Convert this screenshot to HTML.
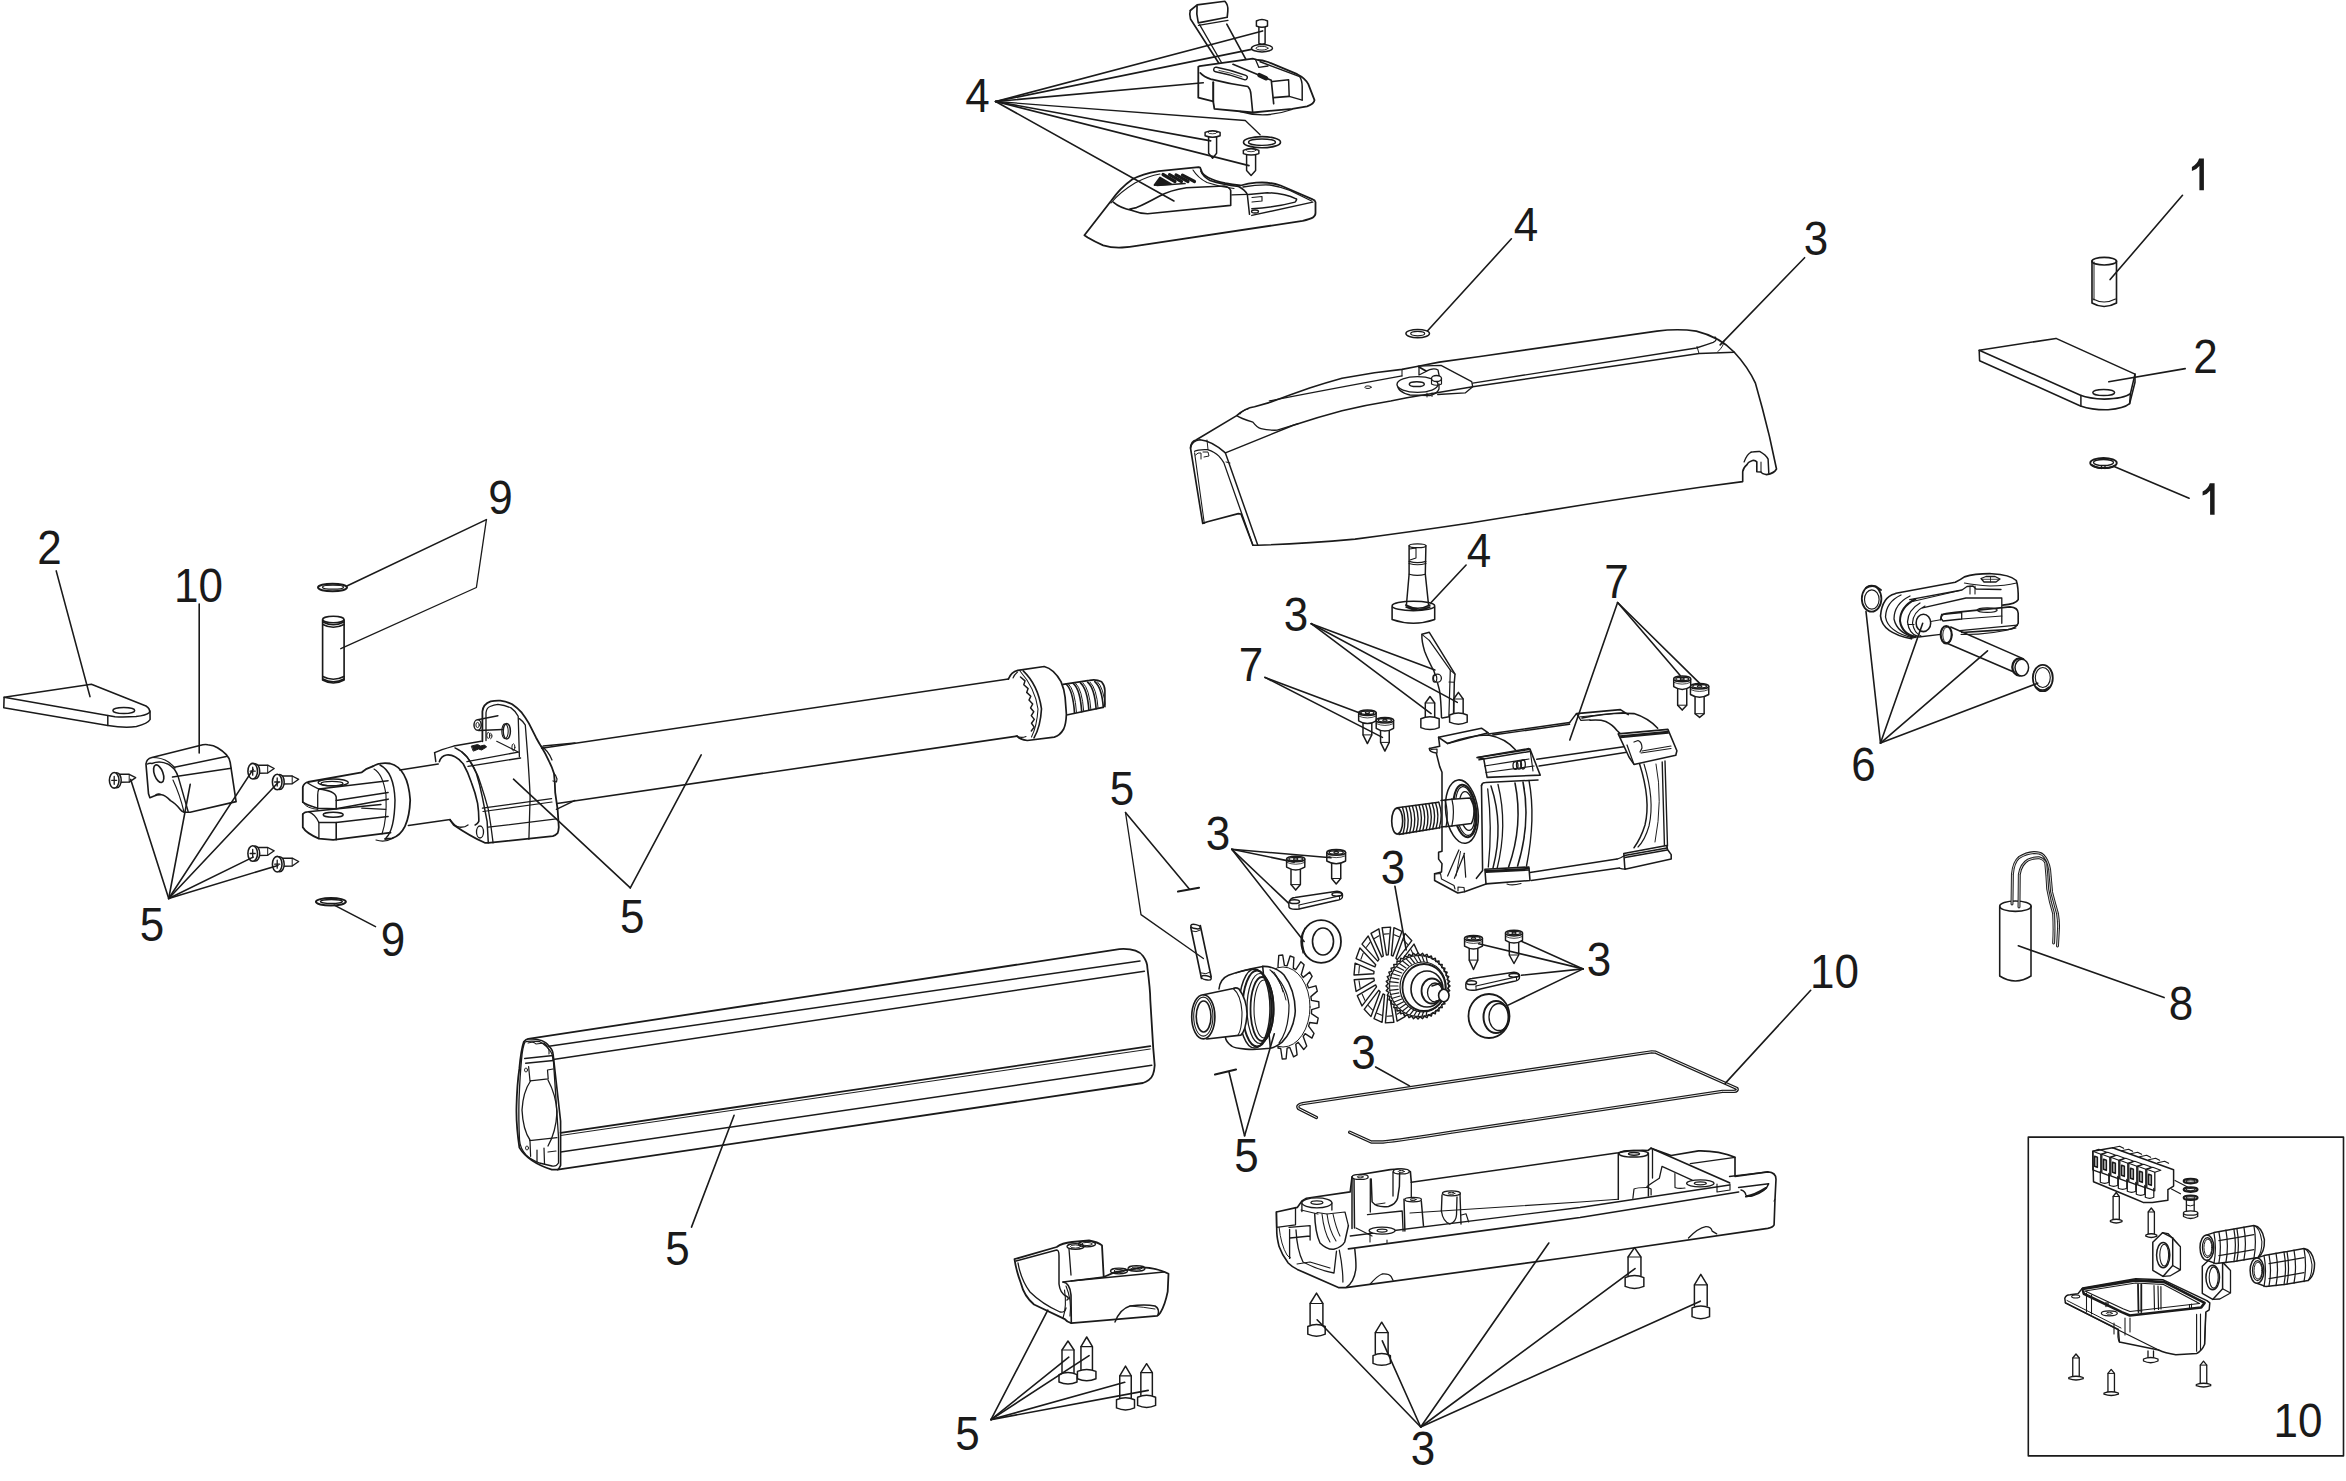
<!DOCTYPE html>
<html><head><meta charset="utf-8"><style>
html,body{margin:0;padding:0;background:#fff;}
body{width:2346px;height:1481px;overflow:hidden;}
svg{display:block;}
text{font-family:"Liberation Sans",sans-serif;}
</style></head><body>
<svg width="2346" height="1481" viewBox="0 0 2346 1481" xmlns="http://www.w3.org/2000/svg" stroke="#1a1a1a" stroke-linejoin="round" stroke-linecap="round" fill="none">
<path d="M1190.3,10.5 Q1189,14 1190.5,19 L1218.7,63" stroke-width="1.64" fill="none"/>
<path d="M1199.6,24.7 L1221.5,62.5" stroke-width="1.31" fill="none"/>
<path d="M1226.8,24.1 L1245.9,59.3" stroke-width="1.64" fill="none"/>
<path d="M1190.3,10.5 L1197.1,4.9 L1224.9,1.2 Q1228.5,5 1227.8,11.1 L1227.2,17.3 L1198.3,22.9 Q1196,14 1197.1,4.9" stroke-width="1.64" fill="none"/>
<path d="M1198.5,25.3 L1228,20.3" stroke-width="1.31" fill="none"/>
<path d="M1258.9,26.6 L1258.9,43.3 Q1262,45 1265.1,43.3 L1265.1,26.6" stroke-width="1.48" fill="none"/>
<path d="M1256.4,21 L1256.4,26 Q1262,28.5 1267.5,26 L1267.5,21 Q1262,18 1256.4,21 Z" stroke-width="1.48" fill="white"/>
<ellipse cx="1262" cy="48.2" rx="10.5" ry="3.7" stroke-width="1.48" fill="none"/>
<ellipse cx="1262" cy="48.2" rx="6" ry="1.9" stroke-width="0.98" fill="none"/>
<path d="M1199.6,66.1 L1252.7,58.7 L1257.7,60 Q1262,60 1268,62 L1297.2,74.2 Q1305,78 1308.3,84.1 L1314.5,100.1 Q1314,104 1307.1,106.3 L1292.3,108.8 L1252.7,112.5 L1214.4,108.8 L1213.2,101.4 L1198.3,97.7 L1198.3,66.7 Z" stroke-width="1.8" fill="none"/>
<path d="M1240,111.5 Q1265,119 1292,109.5" stroke-width="1.31" fill="none"/>
<path d="M1200.2,72.9 Q1204,77 1210.7,79.1 Q1230,84 1247.8,86.5 Q1250.5,89 1250.9,94 L1252.7,112.5" stroke-width="1.64" fill="none"/>
<line x1="1213.2" y1="82.2" x2="1213.2" y2="101.4" stroke-width="2"/>
<path d="M1233,64.3 L1271.3,80.3 L1273.7,103.8" stroke-width="1.64" fill="none"/>
<path d="M1272.5,81.6 L1288.6,79.7 L1289.2,96.4 L1302.2,100.1" stroke-width="1.48" fill="none"/>
<line x1="1273.7" y1="97.7" x2="1289.2" y2="96.4" stroke-width="1.8"/>
<path d="M1260.1,61.8 L1299.7,76.6 Q1302,80 1302.2,86.5 L1302.2,100.1" stroke-width="1.48" fill="none"/>
<path d="M1216,69.5 Q1230,72 1245,77.5" stroke-width="6" stroke-linecap="round" fill="none"/>
<path d="M1216,69.5 Q1230,72 1245,77.5" stroke-width="3.2" stroke="#fff" stroke-linecap="round" fill="none"/>
<path d="M1219,70.5 Q1230,72.5 1242,76.8" stroke-width="0.82" fill="none"/>
<path d="M1259.5,75.2 L1266,78.2" stroke-width="4.5" stroke-linecap="round" fill="none"/>
<path d="M1255.5,59.5 L1258.9,67.4 L1268,66" stroke-width="1.31" fill="none"/>
<path d="M1208.6,137.2 L1208.6,153.3 L1212.6,158.2 L1216.6,153.3 L1216.6,137.2" stroke-width="1.48" fill="none"/>
<path d="M1205.1,132.4 L1205.1,135.7 Q1212.6,138.7 1220.1,135.7 L1220.1,132.4 Q1212.6,128.9 1205.1,132.4 Z" stroke-width="1.48" fill="white"/>
<ellipse cx="1212.6" cy="132.4" rx="4.5" ry="1.4" stroke-width="0.82" fill="none"/>
<path d="M1246.6,155.1 L1246.6,170.6 L1251.1,175.5 L1255.6,170.6 L1255.6,155.1" stroke-width="1.48" fill="none"/>
<path d="M1243.35,150.3 L1243.35,153.6 Q1251.1,156.6 1258.85,153.6 L1258.85,150.3 Q1251.1,146.8 1243.35,150.3 Z" stroke-width="1.48" fill="white"/>
<ellipse cx="1251.1" cy="150.3" rx="4.6499999999999995" ry="1.4" stroke-width="0.82" fill="none"/>
<ellipse cx="1262" cy="142.2" rx="18.5" ry="5.6" stroke-width="1.64" fill="none"/>
<ellipse cx="1262" cy="142.2" rx="13.5" ry="3.2" stroke-width="1.31" fill="none"/>
<path d="M1084.4,235.3 L1087.7,237.6 Q1095,242 1103.2,245.3 Q1112,248 1122.1,247.5 Q1130,247 1136.5,245.9 L1302.7,220.9 Q1310,219 1312.7,217.6 Q1315.5,216 1315.5,213 L1315.5,202.1 Q1315,200 1312.7,199.3 L1280.6,185.5 Q1272,182.5 1262,182.5 L1256.2,182.7 Q1248,183.5 1240.7,185.5 Q1232,184.5 1225.2,183.2 Q1215,181 1208.5,177.7 Q1203,175 1201.9,172.2 L1200.2,167.7 L1198.6,167.2 L1158.7,171.1 Q1142,174 1132.1,179.4 Q1120,188 1111,201 Z" stroke-width="1.8" fill="none"/>
<path d="M1113.2,202.1 Q1120,208 1132.1,210.4 Q1140,213.5 1147.6,213.7 L1230.7,205.4 L1230.7,190.5 Q1229.5,187 1224.1,186 L1186.4,187.7 Q1170,190 1158.7,196.5 Q1145,204 1136.5,207.6 L1130,209" stroke-width="1.64" fill="none"/>
<path d="M1111,203 Q1120,192 1135,183 Q1148,176 1160,174" stroke-width="1.15" fill="none"/>
<path d="M1200.8,171.1 Q1203,177 1210,180.5 Q1222,184.5 1238.5,186.5 Q1245,190 1247.3,194.3 L1249.5,214.3" stroke-width="1.48" fill="none"/>
<path d="M1193,170 Q1198,178 1207,182.5 Q1220,187 1234,188.5" stroke-width="1.15" fill="none"/>
<path d="M1231.8,194.9 L1247.3,194.3" stroke-width="1.31" fill="none"/>
<path d="M1251.8,208.7 Q1275,207.5 1295,202.1 Q1297.5,199 1296.1,198.8 Q1285,193.5 1267.3,192.7 L1248.5,194.5" stroke-width="1.48" fill="none"/>
<path d="M1252,197.5 L1262,196.5 L1262,201 L1252,202" stroke-width="1.15" fill="none"/>
<path d="M1251.8,215.4 L1312.7,202.1" stroke-width="1.48" fill="none"/>
<path d="M1242.9,187 Q1258,184.5 1270,185 Q1280,186.5 1290,190.5 L1311.6,201" stroke-width="1.31" fill="none"/>
<ellipse cx="1255" cy="211.5" rx="3.5" ry="1.5" stroke-width="1.31" fill="none"/>
<path d="M1154.5,185 L1160,177.5 L1171,184 Z" stroke-width="1.8" fill="#1a1a1a"/>
<line x1="1163.0" y1="174.5" x2="1175.0" y2="181.5" stroke-width="3.2"/>
<line x1="1169.5" y1="174.7" x2="1181.5" y2="181.5" stroke-width="3.2"/>
<line x1="1176.0" y1="174.9" x2="1188.0" y2="181.5" stroke-width="3.2"/>
<line x1="1182.5" y1="175.1" x2="1194.5" y2="181.5" stroke-width="3.2"/>
<path d="M1157,185.5 L1185,183.5" stroke-width="1.64" fill="none"/>
<path d="M1202.7,523.4 L1190.5,448 Q1191,441 1196,440 L1236.7,415.6 Q1245,408 1254.5,406.7 L1269.1,402.6 Q1290,395 1309.6,388.1 Q1325,383 1342,378.3 L1374.5,372.7 L1402,369.4 L1418.2,366.2 L1439.3,362.1 L1480,356.5 L1656.9,331.1 Q1678,328.5 1696.3,331.1 Q1720,337 1734.3,352.2 Q1748,367 1755.4,383.1 L1762.4,408.5 L1769.5,436.6 L1776.5,469 Q1774,473.5 1766.6,474.6 Q1762,474 1761,472 L1756.8,471.8 L1756.8,461.9 Q1755,460 1752.6,460.5 Q1748,462 1747,464.7 Q1743,468 1742.7,471.8 L1742.7,481.6 L1700.4,487.3 Q1640,496 1585.3,504.5 Q1520,515 1470.2,523 Q1410,532 1355.1,539.1 Q1300,544 1257.8,545.2 L1252.9,545.2 L1241,514 L1238.3,513.6 L1207.5,521.8 Z" stroke-width="1.64" fill="none"/>
<path d="M1190.5,448 Q1192,440.5 1200,439.8 Q1212,441 1225.4,452.9 L1257.8,545.2" stroke-width="1.48" fill="none"/>
<path d="M1194.6,451.3 Q1198,449.2 1207.5,449.6 Q1215,452 1218.9,456.1 Q1221.5,459 1223.8,462.6 L1252.9,545.2" stroke-width="1.31" fill="none"/>
<path d="M1194.6,452.9 L1204.3,523.4" stroke-width="1.07" fill="none"/>
<path d="M1207,440 L1208,449.5 M1226,462 L1230,463" stroke-width="0.98" fill="none"/>
<path d="M1195.5,455 Q1198,452 1201,453 L1201,459 M1203,452 L1208,452 L1209,456 L1204,457" stroke-width="0.98" fill="none"/>
<path d="M1225.4,452.9 L1293.4,425.3 Q1318,417 1342,410.7 Q1366,405 1390.7,401 L1406.9,397.8 L1472.7,386.7 L1699.1,353.6 L1734.3,352.2" stroke-width="1.48" fill="none"/>
<path d="M1472.7,383.1 L1696.3,348 Q1706,345 1713.2,342.4 Q1718,340 1715,337" stroke-width="1.31" fill="none"/>
<path d="M1699,353.5 L1697,346.5 M1718,351.5 Q1724,346 1724,341" stroke-width="0.98" fill="none"/>
<path d="M1269.1,401 Q1320,391 1402,375.9" stroke-width="1.15" fill="none"/>
<path d="M1236.7,415.6 Q1240,418 1252.9,422.1 Q1257,427.5 1261,428.6 Q1268,430.5 1277.2,430.2 L1298.3,423.7" stroke-width="1.31" fill="none"/>
<path d="M1240,414 Q1243,410 1248,409" stroke-width="1.07" fill="none"/>
<path d="M1402,369.4 L1402,375.9" stroke-width="1.07" fill="none"/>
<path d="M1418.2,366.2 L1441,365.4 L1471.7,381.6 L1472.7,386.7 L1465.2,392.9 L1437.7,394.5" stroke-width="1.31" fill="none"/>
<path d="M1419,366.5 L1419,375 L1425,372 Q1433,367 1438,370 L1440,380" stroke-width="1.31" fill="none"/>
<path d="M1419,367 L1426,371" stroke-width="1.8" fill="none"/>
<path d="M1397.5,384 Q1397,392 1410,395 L1430,395.5 Q1437,394 1439,389 L1439,384" stroke-width="1.31" fill="none"/>
<ellipse cx="1417.5" cy="384.5" rx="20.5" ry="7.8" stroke-width="1.31" fill="white"/>
<ellipse cx="1416.8" cy="384.2" rx="7.5" ry="2.4" stroke-width="1.48" fill="none"/>
<ellipse cx="1436.5" cy="378.5" rx="5" ry="3" stroke-width="1.31" fill="white"/>
<path d="M1431.5,378.5 L1431.5,384 Q1436.5,386.5 1441.5,384 L1441.5,378.5" stroke-width="1.15" fill="none"/>
<path d="M1427,393 L1427,397 M1432,393 L1432,396.5" stroke-width="0.98" fill="none"/>
<ellipse cx="1368" cy="387.2" rx="3.2" ry="1.3" stroke-width="0.98" fill="none"/>
<path d="M1751.2,452.1 Q1755,451.3 1759.6,451.4 Q1766,455 1768.1,459.1 L1768.8,473.2" stroke-width="1.48" fill="none"/>
<path d="M1744.1,461.9 Q1747,454 1751.2,452.1" stroke-width="1.31" fill="none"/>
<path d="M1761,462 L1761,472" stroke-width="1.07" fill="none"/>
<ellipse cx="1417.7" cy="333.6" rx="11.8" ry="4.2" stroke-width="1.48" fill="none"/>
<ellipse cx="1417.7" cy="333.6" rx="7" ry="2.2" stroke-width="1.15" fill="none"/>
<path d="M2092,261 L2092,303 Q2104,310 2116.5,303 L2116.5,261" stroke-width="1.64" fill="none"/>
<ellipse cx="2104.2" cy="261.2" rx="12.3" ry="3.8" stroke-width="1.64" fill="none"/>
<path d="M2093,299 Q2104,305 2115.5,299" stroke-width="1.15" fill="none"/>
<path d="M2094,262 L2094,300" stroke-width="0.98" fill="none"/>
<path d="M1979.2,350.3 L2056,338.4 L2135,374.1 L2130.4,393.7 Q2124,398.8 2104.3,399.1 Q2089,398.5 2080.5,395.2 Z" stroke-width="1.56" fill="none"/>
<path d="M1979.2,350.3 L1979.6,360.7 L2080.5,406 Q2093,410.2 2108.1,409.8 Q2124,408.5 2129.6,403.7 L2135,382.2 L2135,374.1" stroke-width="1.56" fill="none"/>
<line x1="2080.9" y1="395.2" x2="2080.9" y2="406" stroke-width="1.5"/>
<line x1="2130.4" y1="393.7" x2="2129.6" y2="403.7" stroke-width="1.5"/>
<ellipse cx="2103.7" cy="392.5" rx="10.9" ry="3.1" stroke-width="1.48" fill="none"/>
<ellipse cx="2103.5" cy="463" rx="13.3" ry="5" stroke-width="1.8" fill="none"/>
<ellipse cx="2103.5" cy="462.5" rx="10" ry="3" stroke-width="1.31" fill="none"/>
<path d="M2101.5,466 L2101.5,468.5 M2105,466 L2105,468.5" stroke-width="1.31" fill="none"/>
<path d="M2092,465 Q2097,468.5 2101,468 M2106,468 Q2111,468.5 2115,465.5" stroke-width="1.8" fill="none"/>
<path d="M4.1,697.2 L91.4,684.2 L146,706 Q150.5,709 149.5,712.5 Q146,715.5 136,716.5 Q125,717.3 115,716.8 L107.8,715.6 Z" stroke-width="1.56" fill="none"/>
<path d="M4.1,697.2 L3.8,707.7 L107.8,725.5 Q125,728.3 136.4,726.5 Q148,723.5 150.1,719.5 L150,711" stroke-width="1.56" fill="none"/>
<line x1="107.8" y1="715.6" x2="107.8" y2="725.5" stroke-width="1.5"/>
<ellipse cx="123.8" cy="710.5" rx="10.9" ry="3" stroke-width="1.48" fill="none"/>
<path d="M146,764.4 Q146,759 151.9,757.5 L202.8,744.8 Q206,744.3 207.7,744.8 Q214,745.5 217.5,747.7 Q223,751 226.3,754.6 Q229.5,758 230.2,762.4 L236.1,801.6 L190.1,812.3 L184.2,812.3 Q181.5,811 180.3,809.4 Q175,803 170.5,800.6 Q165,795 161.7,794.7 Q157,794.5 154.8,795.7 L149.9,797.7 L148.5,793.7 Z" stroke-width="1.64" fill="none"/>
<path d="M147.5,764 Q149,763 152,763.5 Q160,760 168.5,764.4 Q172.5,767 174.4,769.3 Q177,773 178.3,777.1 L188.1,811.4" stroke-width="1.48" fill="none"/>
<path d="M151.9,757.5 Q162,757.5 168.5,762 Q173,765.5 175,768" stroke-width="1.23" fill="none"/>
<path d="M174.4,767.3 L226.3,756.5" stroke-width="1.48" fill="none"/>
<path d="M172.5,777.1 L231.2,768.3" stroke-width="1.48" fill="none"/>
<path d="M173,780 Q180,795 184,812" stroke-width="1.15" fill="none"/>
<ellipse cx="158.7" cy="773.7" rx="4.3" ry="9.2" stroke-width="1.64" fill="none" transform="rotate(-20 158.7 773.7)"/>
<path d="M155,795.5 Q157,793 160,794" stroke-width="1.15" fill="none"/>
<path d="M118.7,774.3 L129.2,774.3 L135.7,777.5999999999999 L129.2,782.0999999999999 L118.7,782.3" stroke-width="1.39" fill="none"/>
<line x1="129.2" y1="774.3" x2="129.2" y2="782.0999999999999" stroke-width="1.0"/>
<ellipse cx="116.7" cy="780.3" rx="4.5" ry="7.5" stroke-width="1.48" fill="white"/>
<ellipse cx="114.2" cy="780.3" rx="4.8" ry="7.8" stroke-width="1.56" fill="white"/>
<path d="M111.7,780.3 L116.7,780.3 M114.2,776.3 L114.2,784.3" stroke-width="1.31" fill="none"/>
<path d="M257.2,765.2 L267.7,765.2 L274.2,768.5 L267.7,773.0 L257.2,773.2" stroke-width="1.39" fill="none"/>
<line x1="267.7" y1="765.2" x2="267.7" y2="773.0" stroke-width="1.0"/>
<ellipse cx="255.2" cy="771.2" rx="4.5" ry="7.5" stroke-width="1.48" fill="white"/>
<ellipse cx="252.7" cy="771.2" rx="4.8" ry="7.8" stroke-width="1.56" fill="white"/>
<path d="M250.2,771.2 L255.2,771.2 M252.7,767.2 L252.7,775.2" stroke-width="1.31" fill="none"/>
<path d="M281.7,776 L292.2,776 L298.7,779.3 L292.2,783.8 L281.7,784" stroke-width="1.39" fill="none"/>
<line x1="292.2" y1="776" x2="292.2" y2="783.8" stroke-width="1.0"/>
<ellipse cx="279.7" cy="782" rx="4.5" ry="7.5" stroke-width="1.48" fill="white"/>
<ellipse cx="277.2" cy="782" rx="4.8" ry="7.8" stroke-width="1.56" fill="white"/>
<path d="M274.7,782 L279.7,782 M277.2,778 L277.2,786" stroke-width="1.31" fill="none"/>
<path d="M257.2,847.5 L267.7,847.5 L274.2,850.8 L267.7,855.3 L257.2,855.5" stroke-width="1.39" fill="none"/>
<line x1="267.7" y1="847.5" x2="267.7" y2="855.3" stroke-width="1.0"/>
<ellipse cx="255.2" cy="853.5" rx="4.5" ry="7.5" stroke-width="1.48" fill="white"/>
<ellipse cx="252.7" cy="853.5" rx="4.8" ry="7.8" stroke-width="1.56" fill="white"/>
<path d="M250.2,853.5 L255.2,853.5 M252.7,849.5 L252.7,857.5" stroke-width="1.31" fill="none"/>
<path d="M281.7,858.2 L292.2,858.2 L298.7,861.5 L292.2,866.0 L281.7,866.2" stroke-width="1.39" fill="none"/>
<line x1="292.2" y1="858.2" x2="292.2" y2="866.0" stroke-width="1.0"/>
<ellipse cx="279.7" cy="864.2" rx="4.5" ry="7.5" stroke-width="1.48" fill="white"/>
<ellipse cx="277.2" cy="864.2" rx="4.8" ry="7.8" stroke-width="1.56" fill="white"/>
<path d="M274.7,864.2 L279.7,864.2 M277.2,860.2 L277.2,868.2" stroke-width="1.31" fill="none"/>
<ellipse cx="332.5" cy="587.5" rx="14.5" ry="3.8" stroke-width="1.97" fill="none"/>
<ellipse cx="333" cy="587.2" rx="10.5" ry="2" stroke-width="1.31" fill="none"/>
<ellipse cx="330.9" cy="901.8" rx="15" ry="3.8" stroke-width="1.97" fill="none"/>
<ellipse cx="331.4" cy="901.5" rx="11" ry="2" stroke-width="1.31" fill="none"/>
<path d="M322.6,620 L322.6,680 Q333.3,686 344.1,680 L344.1,620" stroke-width="1.64" fill="none"/>
<ellipse cx="333.3" cy="619.5" rx="10.7" ry="3.2" stroke-width="1.64" fill="none"/>
<path d="M322.8,676.5 Q333.3,682 344,676.5 M322.8,679 Q333.3,684.5 344,679" stroke-width="1.56" fill="none"/>
<path d="M322.8,622 Q333.3,627.5 344,622 M322.8,624.5 Q333.3,630 344,624.5" stroke-width="1.56" fill="none"/>
<path d="M541.7,748.2 L1008.4,679" stroke-width="1.64" fill="none"/>
<path d="M557,803.5 L1017.1,736.1" stroke-width="1.64" fill="none"/>
<path d="M1008.4,679 Q1011,672 1017.8,670.3 L1044.2,666.5 Q1054,669 1061,681.7 Q1064.5,690 1065.1,697.3 L1066.4,714.2 Q1066,724 1063.7,729 Q1060,735.5 1054.3,737.1 L1027.3,740.5 Q1020,739.5 1017.1,736.1" stroke-width="1.72" fill="none"/>
<path d="M1023.2,670.9 Q1038,685 1041.5,708.8 Q1040.5,727 1034,737.8" stroke-width="1.64" fill="none"/>
<path d="M1020,671 Q1035,688 1038,709 Q1037,726 1031.5,737" stroke-width="1.07" fill="none"/>
<path d="M1017.5,672 Q1014,675 1013,678 M1016,736 Q1021,738.5 1026,736.5" stroke-width="1.07" fill="none"/>
<path d="M1020.5,677 L1025.0,680.9 L1023.8,684.7 L1028.1,688.6 L1026.7,692.4 L1030.8,696.3 L1029.0,700.1 L1032.7,704.0 L1030.6,707.9 L1033.8,711.7 L1031.3,715.6 L1034.3,719.4 L1031.5,723.3 L1034.2,727.1 L1031.3,731.0" stroke-width="1.48" fill="none"/>
<path d="M1063.1,684.4 L1089.4,680.4 Q1096,679 1101.6,681.7 Q1105,686 1104.9,690.5 L1104.9,704 Q1104.5,706.5 1102.9,707.4 L1067.8,714.8" stroke-width="1.64" fill="none"/>
<path d="M1066.0,684.0 Q1073.0,690.0 1074.5,713.0" stroke-width="1.64" fill="none"/>
<path d="M1068.5,684.0 Q1075.0,690.0 1076.5,712.5" stroke-width="0.98" fill="none"/>
<path d="M1073.2,683.4 Q1080.2,689.4 1081.7,711.6" stroke-width="1.64" fill="none"/>
<path d="M1075.7,683.4 Q1082.2,689.4 1083.7,711.1" stroke-width="0.98" fill="none"/>
<path d="M1080.4,682.8 Q1087.4,688.8 1088.9,710.2" stroke-width="1.64" fill="none"/>
<path d="M1082.9,682.8 Q1089.4,688.8 1090.9,709.7" stroke-width="0.98" fill="none"/>
<path d="M1087.6,682.2 Q1094.6,688.2 1096.1,708.8" stroke-width="1.64" fill="none"/>
<path d="M1090.1,682.2 Q1096.6,688.2 1098.1,708.3" stroke-width="0.98" fill="none"/>
<path d="M1094.8,681.6 Q1101.8,687.6 1103.3,707.4" stroke-width="1.64" fill="none"/>
<path d="M1097.3,681.6 Q1103.8,687.6 1105.3,706.9" stroke-width="0.98" fill="none"/>
<path d="M302.8,802.2 L302.8,787 Q304,783 308,782 L361.8,772.3 L366.6,768.8 L372.6,766.4" stroke-width="1.8" fill="none"/>
<path d="M302.8,802.2 Q306,805 317.7,808.2 L336.2,808.7 L388.1,799.2" stroke-width="1.64" fill="none"/>
<path d="M306.9,782.5 Q312,786 318.9,789.1 L388.1,780.7" stroke-width="1.48" fill="none"/>
<path d="M318.9,789.1 Q317.7,791 317.7,795 L317.7,808.2" stroke-width="1.31" fill="none"/>
<path d="M318.9,789.1 Q335,791 336.2,797 L336.2,808.7" stroke-width="1.48" fill="none"/>
<path d="M336.2,800.4 L388.1,792.6" stroke-width="1.48" fill="none"/>
<ellipse cx="333.2" cy="782.5" rx="15" ry="3.5" stroke-width="1.48" fill="none"/>
<ellipse cx="332" cy="783.5" rx="11" ry="2.2" stroke-width="1.31" fill="none"/>
<path d="M302.8,814.1 L302.8,827.2 Q306,833 318.9,838.6 L333.2,839.8 L390.5,832.6" stroke-width="1.8" fill="none"/>
<path d="M302.8,814.1 Q304,812 308.1,811.7 L380.9,804.6" stroke-width="1.48" fill="none"/>
<path d="M308.1,811.7 Q315,814 318.9,822.5 L318.9,838.6" stroke-width="1.31" fill="none"/>
<path d="M318.9,822.5 L336.2,822.5 L388.1,816.5" stroke-width="1.48" fill="none"/>
<line x1="336.2" y1="822.5" x2="336.2" y2="839.8" stroke-width="1.6"/>
<ellipse cx="333.2" cy="814.7" rx="10" ry="2.5" stroke-width="1.48" fill="none"/>
<path d="M361.8,808.2 L385.7,809.3" stroke-width="1.31" fill="none"/>
<path d="M304,803.5 Q306,808 318,809.5" stroke-width="0.98" fill="none"/>
<path d="M372.6,766.4 Q380,762 390,763.5 Q408,768 410.2,800 Q409,833 392,838.3 L385,839" stroke-width="1.8" fill="none"/>
<path d="M380,765 Q394,772 395,800 Q394.5,830 386,838" stroke-width="1.48" fill="none"/>
<path d="M374,769 Q383,774 386,795 Q387,820 382,834" stroke-width="1.15" fill="none"/>
<path d="M376,840 Q385,843 393,838" stroke-width="1.15" fill="none"/>
<path d="M400,770 L438.2,764" stroke-width="1.64" fill="none"/>
<path d="M408.4,825.5 L450.2,819.5" stroke-width="1.64" fill="none"/>
<path d="M434.6,752.7 L435.8,761.6" stroke-width="1.48" fill="none"/>
<path d="M434.6,752.7 Q440,750 453.7,746.1 L481.2,741.3" stroke-width="1.48" fill="none"/>
<path d="M482.4,741.3 L482.4,711.5 Q483,704 490.7,701.3 Q495,700.5 500.3,700.7 Q507,701.5 512.2,704.3 Q517,707.5 521.8,712.7 Q525.5,717.5 528.9,723.4 L536.1,737.7 Q538.5,742 540.9,746.1 Q545.5,753.5 549.2,761.6 Q552,767 554,773.5 Q555,783 555.2,792.6 L557.6,809.3 L558.8,827.2 Q558.5,831 557.6,833.2 Q555.5,835.5 552.8,836.2 L488.3,842.8 L484.8,842.8 Q470,836 453.7,824.9 L450.2,820.1" stroke-width="1.8" fill="none"/>
<path d="M486,740.5 L486,712.7 Q486.5,708 490,706.5 Q494,704.5 497.9,704.3 Q505,705 511,707.9 Q515.5,711 518.2,716.3 L519.4,756.8" stroke-width="1.31" fill="none"/>
<path d="M519.4,718.6 Q524,722 525.3,725 L528,760 Q530,790 530.1,797.4 L528.9,839.2" stroke-width="1.31" fill="none"/>
<path d="M439.4,761.6 Q441,756 446.6,755 Q451,754.5 455,756.8 Q460,759.5 463.3,764 Q468,772 471.6,783.1 Q475.5,793 477.6,803.4 Q479,813 478.8,821.3 Q477.5,824 475.2,824.9" stroke-width="1.64" fill="none"/>
<path d="M455,747.9 Q462,751 466.9,756.8 Q472,764 476.4,773.5 Q480,785 482.4,797.4 L487.1,821.3 L488.3,842.8" stroke-width="1.48" fill="none"/>
<path d="M462.1,752 Q469,758 474,767.6 Q478.5,776 481.2,785.5 Q485,797 488.3,809.3 Q491,825 493.1,842.8" stroke-width="1.31" fill="none"/>
<path d="M450.2,820.1 Q455,826.5 459.7,827.2 Q465,827.5 468,824.9" stroke-width="1.31" fill="none"/>
<ellipse cx="480" cy="832" rx="3.5" ry="6" stroke-width="1.31" fill="none"/>
<path d="M468,766.4 L520.6,758 M466.9,761.6 L518.2,752.1" stroke-width="1.31" fill="none"/>
<path d="M496.7,741.3 L518.2,752.1" stroke-width="1.15" fill="none"/>
<path d="M471.6,746 l6,-1.5 l3,1.5 l4,-1 l2,2 l-5,3 l-3,-1 l-5,2 Z" stroke-width="0.98" fill="#1a1a1a"/>
<path d="M482.4,808.2 L551.6,798.6 M483,811.5 L552,802" stroke-width="1.23" fill="none"/>
<path d="M488.3,827.2 L556.4,818.9" stroke-width="1.31" fill="none"/>
<path d="M477.6,719.8 L497.9,715.7 M478.8,730.6 L502.7,729.4" stroke-width="1.48" fill="none"/>
<ellipse cx="477.6" cy="725" rx="3.6" ry="5.2" stroke-width="1.48" fill="white"/>
<ellipse cx="477.6" cy="725" rx="1.7" ry="2.6" stroke-width="0.98" fill="none"/>
<ellipse cx="506.8" cy="731.2" rx="3.6" ry="7.8" stroke-width="1.48" fill="white"/>
<ellipse cx="505" cy="731.2" rx="3.2" ry="7.4" stroke-width="1.07" fill="none"/>
<ellipse cx="488.3" cy="735.4" rx="1.5" ry="3" stroke-width="0.98" fill="none"/>
<ellipse cx="490.7" cy="736" rx="1.2" ry="2.8" stroke-width="0.82" fill="none"/>
<ellipse cx="513.4" cy="747.3" rx="1.5" ry="3.5" stroke-width="0.98" fill="none"/>
<path d="M543.2,746.1 L575,743.1 M556.4,809.3 L575,800.4" stroke-width="1.48" fill="none"/>
<path d="M540.9,746.1 Q548,750 552,760 M554,773.5 Q556,775 557,779 L556.5,782 L553,781" stroke-width="1.23" fill="none"/>
<path d="M1392.1,607 L1392.1,619.5 Q1413.4,627 1434.7,619.5 L1434.7,607" stroke-width="1.56" fill="none"/>
<ellipse cx="1413.4" cy="605.9" rx="21.3" ry="4.7" stroke-width="1.56" fill="white"/>
<path d="M1406.4,605.3 L1409.1,574.2 L1409.1,545.8 M1428.6,605.3 L1425.3,574.2 L1425.9,545.8" stroke-width="1.48" fill="none"/>
<ellipse cx="1417.5" cy="545.8" rx="8.4" ry="1.9" stroke-width="1.31" fill="white"/>
<path d="M1409.1,561.4 Q1417.5,564 1425.9,561.4 M1409.1,563.5 Q1417.5,566 1425.9,563.5" stroke-width="1.23" fill="none"/>
<path d="M1409.1,574.2 Q1417.5,576.5 1425.3,574.2" stroke-width="1.15" fill="none"/>
<path d="M1409.5,549 L1416,548 L1416,558 L1410,560" stroke-width="1.07" fill="none"/>
<path d="M1405.7,605 Q1418,611.5 1430,605 M1406,607 Q1418,613 1430,607" stroke-width="1.56" fill="none"/>
<path d="M1421.9,634.3 L1429.3,632.3 L1455,674.2 L1454.3,682.3 L1453.6,714.7 L1448.9,716.8 L1442.2,718.1 L1441.5,717.4 Q1441,700 1439.5,690.4 Q1437,680 1434.1,671.5 Q1428,660 1424.6,651.2 Q1421.5,641 1421.9,634.3 Z" stroke-width="1.48" fill="white"/>
<path d="M1429.3,640.4 L1450.3,670.1 L1448.9,716.1" stroke-width="1.23" fill="none"/>
<path d="M1421.9,634.3 L1429.3,640.4 M1450.3,670.1 L1455,674.2 M1449,682 L1454.3,682.3" stroke-width="1.07" fill="none"/>
<ellipse cx="1437.4" cy="678.2" rx="4" ry="4" stroke-width="1.31" fill="white"/>
<ellipse cx="1434.8" cy="678.5" rx="2" ry="3.6" stroke-width="1.15" fill="none"/>
<path d="M1425.3,716.8 L1425.3,703 L1430,696.5 L1434.7,703 L1434.7,716.8" stroke-width="1.48" fill="none"/>
<line x1="1425.3" y1="703" x2="1434.7" y2="703" stroke-width="1.2"/>
<path d="M1420.85,718.8 L1420.85,727.6 Q1430,731.6 1439.15,727.6 L1439.15,718.8 Q1430,714.8 1420.85,718.8 Z" stroke-width="1.48" fill="white"/>
<path d="M1453.65,713 L1453.65,699 L1458.4,692.4 L1463.15,699 L1463.15,713" stroke-width="1.48" fill="none"/>
<line x1="1453.65" y1="699" x2="1463.15" y2="699" stroke-width="1.2"/>
<path d="M1449.6000000000001,715 L1449.6000000000001,722.2 Q1458.4,726.2 1467.2,722.2 L1467.2,715 Q1458.4,711 1449.6000000000001,715 Z" stroke-width="1.48" fill="white"/>
<path d="M1363.0,723.6 L1363.0,734.9 L1367.4,743.6 L1371.8000000000002,734.9 L1371.8000000000002,723.6" stroke-width="1.48" fill="none"/>
<line x1="1363.0" y1="734.9" x2="1371.8000000000002" y2="734.9" stroke-width="1.0"/>
<path d="M1358.65,712.6999999999999 L1358.65,720.8000000000001 Q1367.4,726.4 1376.15,720.8000000000001 L1376.15,712.6999999999999" stroke-width="1.48" fill="white"/>
<ellipse cx="1367.4" cy="712.6999999999999" rx="8.75" ry="2.8" stroke-width="1.48" fill="white"/>
<ellipse cx="1367.4" cy="712.6999999999999" rx="6.5625" ry="1.68" stroke-width="1.31" fill="none"/>
<ellipse cx="1367.4" cy="712.6999999999999" rx="2.1875" ry="0.9799999999999999" stroke-width="1.15" fill="none"/>
<path d="M1358.65,716.06 Q1367.4,719.98 1376.15,716.06" stroke-width="0.82" fill="none"/>
<path d="M1380.5500000000002,731.1 L1380.5500000000002,742.4 L1384.9,751.1 L1389.25,742.4 L1389.25,731.1" stroke-width="1.48" fill="none"/>
<line x1="1380.5500000000002" y1="742.4" x2="1389.25" y2="742.4" stroke-width="1.0"/>
<path d="M1376.2,720.1999999999999 L1376.2,728.3000000000001 Q1384.9,733.9 1393.6000000000001,728.3000000000001 L1393.6000000000001,720.1999999999999" stroke-width="1.48" fill="white"/>
<ellipse cx="1384.9" cy="720.1999999999999" rx="8.7" ry="2.8" stroke-width="1.48" fill="white"/>
<ellipse cx="1384.9" cy="720.1999999999999" rx="6.5249999999999995" ry="1.68" stroke-width="1.31" fill="none"/>
<ellipse cx="1384.9" cy="720.1999999999999" rx="2.175" ry="0.9799999999999999" stroke-width="1.15" fill="none"/>
<path d="M1376.2,723.56 Q1384.9,727.48 1393.6000000000001,723.56" stroke-width="0.82" fill="none"/>
<path d="M1677.65,689.4 L1677.65,705.2 L1682.2,710.1 L1686.75,705.2 L1686.75,689.4" stroke-width="1.48" fill="none"/>
<line x1="1677.65" y1="705.2" x2="1686.75" y2="705.2" stroke-width="1.0"/>
<path d="M1673.7,678.9 L1673.7,686.6 Q1682.2,692.1999999999999 1690.7,686.6 L1690.7,678.9" stroke-width="1.48" fill="white"/>
<ellipse cx="1682.2" cy="678.9" rx="8.5" ry="2.8" stroke-width="1.48" fill="white"/>
<ellipse cx="1682.2" cy="678.9" rx="6.375" ry="1.68" stroke-width="1.31" fill="none"/>
<ellipse cx="1682.2" cy="678.9" rx="2.125" ry="0.9799999999999999" stroke-width="1.15" fill="none"/>
<path d="M1673.7,682.26 Q1682.2,686.1800000000001 1690.7,682.26" stroke-width="0.82" fill="none"/>
<path d="M1695.05,697.3 L1695.05,713.7 L1699.6,717.4 L1704.1499999999999,713.7 L1704.1499999999999,697.3" stroke-width="1.48" fill="none"/>
<line x1="1695.05" y1="713.7" x2="1704.1499999999999" y2="713.7" stroke-width="1.0"/>
<path d="M1690.4499999999998,686.1999999999999 L1690.4499999999998,694.5 Q1699.6,700.0999999999999 1708.75,694.5 L1708.75,686.1999999999999" stroke-width="1.48" fill="white"/>
<ellipse cx="1699.6" cy="686.1999999999999" rx="9.15" ry="2.8" stroke-width="1.48" fill="white"/>
<ellipse cx="1699.6" cy="686.1999999999999" rx="6.862500000000001" ry="1.68" stroke-width="1.31" fill="none"/>
<ellipse cx="1699.6" cy="686.1999999999999" rx="2.2875" ry="0.9799999999999999" stroke-width="1.15" fill="none"/>
<path d="M1690.4499999999998,689.56 Q1699.6,693.48 1708.75,689.56" stroke-width="0.82" fill="none"/>
<path d="M1429.5,748.6 L1439.7,746.3 L1438.6,737.3" stroke-width="1.56" fill="none"/>
<path d="M1429.5,748.6 Q1429,752 1436.3,753.1 L1439.7,766.6 L1442,772.3 L1442,851.2 L1438.6,852.3 L1438.6,859.1 L1442,863.6 L1441.5,872 L1434.6,873.8" stroke-width="1.56" fill="none"/>
<path d="M1431,749.5 L1437,749 L1437,753" stroke-width="1.23" fill="none"/>
<ellipse cx="1461.9" cy="811.6" rx="16.1" ry="31.9" stroke-width="1.56" fill="none" transform="rotate(-7 1461.9 811.6)"/>
<ellipse cx="1465" cy="811" rx="11.2" ry="26.4" stroke-width="2.13" fill="none" transform="rotate(-7 1465 811)"/>
<ellipse cx="1465.5" cy="811" rx="9.6" ry="24.5" stroke-width="1.15" fill="none" transform="rotate(-7 1465.5 811)"/>
<ellipse cx="1467" cy="811" rx="7.5" ry="19.5" stroke-width="1.31" fill="none" transform="rotate(-7 1467 811)"/>
<path d="M1451.9,799.2 L1470.1,798 Q1474,804 1474,811 Q1474,819 1471.3,823.5 L1451.9,825.9" stroke-width="1.56" fill="white"/>
<path d="M1441,800.4 L1451.9,799.2 M1441,827.1 L1451.9,825.9" stroke-width="1.48" fill="none"/>
<path d="M1445,800 Q1449,813 1446,827 M1451.9,799.2 Q1455,812 1451.9,825.9" stroke-width="1.23" fill="none"/>
<path d="M1397.2,807.7 L1438.5,802.2 M1399,834.4 L1439.7,827.8" stroke-width="1.64" fill="none"/>
<ellipse cx="1397.2" cy="821.1" rx="5.5" ry="13" stroke-width="1.64" fill="none"/>
<path d="M1402.5,807.3 Q1407.0,820.5 1403.0,834.0" stroke-width="1.39" fill="none"/>
<path d="M1405.8,806.8499999999999 Q1410.3,820.0 1406.3,833.45" stroke-width="1.39" fill="none"/>
<path d="M1409.1,806.4 Q1413.6,819.5 1409.6,832.9" stroke-width="1.39" fill="none"/>
<path d="M1412.4,805.9499999999999 Q1416.9,819.0 1412.9,832.35" stroke-width="1.39" fill="none"/>
<path d="M1415.7,805.5 Q1420.2,818.5 1416.2,831.8" stroke-width="1.39" fill="none"/>
<path d="M1419.0,805.05 Q1423.5,818.0 1419.5,831.25" stroke-width="1.39" fill="none"/>
<path d="M1422.3,804.5999999999999 Q1426.8,817.5 1422.8,830.7" stroke-width="1.39" fill="none"/>
<path d="M1425.6,804.15 Q1430.1,817.0 1426.1,830.15" stroke-width="1.39" fill="none"/>
<path d="M1428.9,803.6999999999999 Q1433.4,816.5 1429.4,829.6" stroke-width="1.39" fill="none"/>
<path d="M1432.2,803.25 Q1436.7,816.0 1432.7,829.05" stroke-width="1.39" fill="none"/>
<path d="M1435.5,802.8 Q1440.0,815.5 1436.0,828.5" stroke-width="1.39" fill="none"/>
<path d="M1438.8,802.3499999999999 Q1443.3,815.0 1439.3,827.95" stroke-width="1.39" fill="none"/>
<path d="M1438.6,737.3 L1481.5,728.2 L1488.3,732.8 L1447.6,743.5 Z" stroke-width="1.56" fill="none"/>
<path d="M1447.6,743.5 Q1470,735 1488.3,735 Q1505,738 1515.4,749.7" stroke-width="1.56" fill="none"/>
<path d="M1488.3,733.9 L1569.6,722.6 M1492.8,735 L1569.6,724.3" stroke-width="1.48" fill="none"/>
<path d="M1569.6,722.6 L1576.4,713.6 L1620.4,709.6 L1628.3,714.7" stroke-width="1.56" fill="none"/>
<path d="M1578.6,717 L1624,712.5 M1576.4,713.6 L1580.9,720.3 L1590,719.8" stroke-width="1.23" fill="none"/>
<path d="M1590,720.3 Q1600,719.5 1605.7,721.5 Q1613,725 1617,730.5 L1620.4,733.9" stroke-width="1.56" fill="none"/>
<path d="M1582,718 Q1610,712 1634,713.6 Q1648,718 1657.7,728.2" stroke-width="1.56" fill="none"/>
<path d="M1477,757.6 L1528.9,748.6 L1530,749.1 L1540.2,775.1 L1487.1,777.4 L1483.7,758.7 Z" stroke-width="1.56" fill="white"/>
<path d="M1478,757.5 L1529,749.5 M1479,759.8 L1529.5,751.5" stroke-width="1.48" fill="none"/>
<path d="M1484.5,766 L1529,759 M1486,772.5 L1534,766" stroke-width="1.23" fill="none"/>
<path d="M1530,749.1 L1533,771" stroke-width="1.15" fill="none"/>
<ellipse cx="1515.5" cy="765.5" rx="2.5" ry="3.8" stroke-width="1.31" fill="none"/>
<ellipse cx="1519" cy="765" rx="2.5" ry="4.2" stroke-width="1.31" fill="none"/>
<ellipse cx="1523" cy="764.5" rx="2.3" ry="4.5" stroke-width="1.31" fill="none"/>
<path d="M1536.8,759.3 L1627.2,746.3 M1539.1,766.1 L1628.3,752" stroke-width="1.48" fill="none"/>
<path d="M1618.2,733.9 L1667.9,729.4 L1676.9,750.8 L1675.8,755.3 L1634,764.4 L1629,757 Z" stroke-width="1.56" fill="white"/>
<path d="M1620,736 L1668,731.5 M1620.5,737.5 L1668.3,733" stroke-width="1.48" fill="none"/>
<path d="M1627,745 L1634,764.4 M1634,742 L1638,740.5 Q1642,742 1642,748 L1640,752" stroke-width="1.23" fill="none"/>
<path d="M1641,753 L1671,748.5 M1642,751 L1671,746" stroke-width="1.15" fill="none"/>
<path d="M1639.6,764 Q1651,800 1645,825 Q1641,838 1634,847.8" stroke-width="1.48" fill="none"/>
<path d="M1644,764 Q1655,800 1649,826 Q1645,840 1638,847" stroke-width="1.15" fill="none"/>
<path d="M1662.2,762 L1664.5,847.8 M1665,761 L1667.5,846" stroke-width="1.39" fill="none"/>
<path d="M1656,764 Q1663,800 1655,842" stroke-width="0.98" fill="none"/>
<path d="M1623.8,853.4 L1666.7,845.5 L1667.5,849.5 L1671.2,854.6 L1671.2,859.1 L1624.9,869.2 Z" stroke-width="1.56" fill="white"/>
<path d="M1624.5,855.5 L1667,848 M1625,857.5 L1667.2,850" stroke-width="1.39" fill="none"/>
<path d="M1617,859.1 Q1621,858 1623.8,856 M1619.3,868.1 Q1622,869 1624.9,869.2" stroke-width="1.23" fill="none"/>
<path d="M1530,872.6 L1617,859.1 M1531.2,880.5 L1619.3,868.1" stroke-width="1.48" fill="none"/>
<path d="M1481.5,785.6 Q1482,782.5 1485.5,782.5 L1538,780" stroke-width="1.56" fill="none"/>
<path d="M1481.5,785.6 L1482.6,870.4 L1476.4,878.3" stroke-width="1.56" fill="none"/>
<path d="M1487.7,789 Q1492.5,827 1488.3,867" stroke-width="1.31" fill="none"/>
<path d="M1491,786 Q1504,825 1493,868" stroke-width="1.48" fill="none"/>
<path d="M1498,784.5 Q1508,825 1497,869" stroke-width="1.31" fill="none"/>
<path d="M1515,783 Q1523.5,825 1508.6,867" stroke-width="1.56" fill="none"/>
<path d="M1523,782 Q1531,822 1517.6,866" stroke-width="1.56" fill="none"/>
<path d="M1529,780.5 Q1536,818 1526.5,866" stroke-width="1.39" fill="none"/>
<path d="M1484.9,869.2 L1528.9,867 L1530,880.5 L1486,883.9 Z" stroke-width="1.56" fill="white"/>
<path d="M1485.5,870.8 L1528.8,868.5 M1485.8,872.3 L1528.8,870" stroke-width="1.48" fill="none"/>
<path d="M1507,884 Q1512,886 1521,883.5" stroke-width="1.15" fill="none"/>
<path d="M1434.6,873.8 L1434.6,880.5 L1457.8,893 L1464.5,891.8 L1486,883.9" stroke-width="1.56" fill="none"/>
<path d="M1436,874 L1440.5,873.5 L1441.5,879 L1454,885.5 L1455,889 M1458,891 L1458,887 L1464,887.5 L1464.5,891.8" stroke-width="1.15" fill="none"/>
<path d="M1447.6,876 L1458.9,850 M1454.4,878.3 L1464.5,853.4 M1464,853.4 L1465.7,877.1" stroke-width="1.23" fill="none"/>
<path d="M1460.5,851.5 L1456,876" stroke-width="0.98" fill="none"/>
<path d="M1178,891.5 L1199,887.8" stroke-width="2.13" fill="none"/>
<path d="M1215,1074.5 L1236,1069.5" stroke-width="2.13" fill="none"/>
<path d="M1190.8,927.5 L1201.5,978.5 M1200.3,925.5 L1211.2,977" stroke-width="1.64" fill="none"/>
<ellipse cx="1195.5" cy="926.6" rx="4.8" ry="2" stroke-width="1.48" fill="none" transform="rotate(12 1195.5 926.6)"/>
<ellipse cx="1206.3" cy="977.8" rx="5" ry="2" stroke-width="1.48" fill="none" transform="rotate(12 1206.3 977.8)"/>
<path d="M1201,973 Q1206,975 1210.5,972 M1191.5,931 Q1196,933 1200.5,930" stroke-width="0.98" fill="none"/>
<path d="M1291.0,869.9 L1291.0,884.6 L1295.7,890.1 L1300.4,884.6 L1300.4,869.9" stroke-width="1.48" fill="none"/>
<line x1="1291.0" y1="884.6" x2="1300.4" y2="884.6" stroke-width="1.0"/>
<path d="M1286.6000000000001,859.0 L1286.6000000000001,867.1 Q1295.7,872.6999999999999 1304.8,867.1 L1304.8,859.0" stroke-width="1.48" fill="white"/>
<ellipse cx="1295.7" cy="859.0" rx="9.1" ry="2.8" stroke-width="1.48" fill="white"/>
<ellipse cx="1295.7" cy="859.0" rx="6.824999999999999" ry="1.68" stroke-width="1.31" fill="none"/>
<ellipse cx="1295.7" cy="859.0" rx="2.275" ry="0.9799999999999999" stroke-width="1.15" fill="none"/>
<path d="M1286.6000000000001,862.36 Q1295.7,866.2800000000001 1304.8,862.36" stroke-width="0.82" fill="none"/>
<path d="M1331.65,863.8 L1331.65,878.5 L1336.2,884 L1340.75,878.5 L1340.75,863.8" stroke-width="1.48" fill="none"/>
<line x1="1331.65" y1="878.5" x2="1340.75" y2="878.5" stroke-width="1.0"/>
<path d="M1326.8,852.4 L1326.8,861.0 Q1336.2,866.5999999999999 1345.6000000000001,861.0 L1345.6000000000001,852.4" stroke-width="1.48" fill="white"/>
<ellipse cx="1336.2" cy="852.4" rx="9.4" ry="2.8" stroke-width="1.48" fill="white"/>
<ellipse cx="1336.2" cy="852.4" rx="7.050000000000001" ry="1.68" stroke-width="1.31" fill="none"/>
<ellipse cx="1336.2" cy="852.4" rx="2.35" ry="0.9799999999999999" stroke-width="1.15" fill="none"/>
<path d="M1326.8,855.76 Q1336.2,859.6800000000001 1345.6000000000001,855.76" stroke-width="0.82" fill="none"/>
<path d="M1295,897.5 L1337,891.3 Q1343,892.0 1342.5,895.0 L1342.3,897.5 Q1341,900.0 1336,900.5 L1299,909.0 Q1290,910.0 1289,907.0 L1288.8,903.5 Q1289.5,898.0 1295,897.5 Z" stroke-width="1.48" fill="white"/>
<path d="M1299,905.0 L1341.5,895.3" stroke-width="1.23" fill="none"/>
<ellipse cx="1294.5" cy="901.7" rx="5" ry="1.9" stroke-width="1.48" fill="none"/>
<ellipse cx="1337" cy="894.3" rx="5" ry="1.9" stroke-width="1.48" fill="none"/>
<path d="M1299,905.0 L1299,909.0 M1339.5,895.5 L1339.5,899.5" stroke-width="0.98" fill="none"/>
<path d="M1472,978.5 L1514,972.3 Q1520,973.0 1519.5,976.0 L1519.3,978.5 Q1518,981.0 1513,981.5 L1476,990.0 Q1467,991.0 1466,988.0 L1465.8,984.5 Q1466.5,979.0 1472,978.5 Z" stroke-width="1.48" fill="white"/>
<path d="M1476,986.0 L1518.5,976.3" stroke-width="1.23" fill="none"/>
<ellipse cx="1471.5" cy="982.7" rx="5" ry="1.9" stroke-width="1.48" fill="none"/>
<ellipse cx="1514" cy="975.3" rx="5" ry="1.9" stroke-width="1.48" fill="none"/>
<path d="M1476,986.0 L1476,990.0 M1516.5,976.5 L1516.5,980.5" stroke-width="0.98" fill="none"/>
<ellipse cx="1321.1" cy="941.5" rx="19.9" ry="21.3" stroke-width="1.8" fill="none"/>
<ellipse cx="1323" cy="941.5" rx="10.5" ry="13.5" stroke-width="1.64" fill="none"/>
<path d="M1303,933 Q1301,946 1306,956 M1305,928 Q1300,941 1303,953" stroke-width="1.15" fill="none"/>
<ellipse cx="1489" cy="1016" rx="20.5" ry="22" stroke-width="1.8" fill="none"/>
<ellipse cx="1496" cy="1017" rx="12.5" ry="16" stroke-width="1.97" fill="none"/>
<ellipse cx="1499" cy="1017" rx="10" ry="13.5" stroke-width="1.31" fill="none"/>
<path d="M1469.2,949 L1469.2,960.1 L1473.5,969.5 L1477.8,960.1 L1477.8,949" stroke-width="1.48" fill="none"/>
<line x1="1469.2" y1="960.1" x2="1477.8" y2="960.1" stroke-width="1.0"/>
<path d="M1464.55,938.1999999999999 L1464.55,946.2 Q1473.5,951.8 1482.45,946.2 L1482.45,938.1999999999999" stroke-width="1.48" fill="white"/>
<ellipse cx="1473.5" cy="938.1999999999999" rx="8.95" ry="2.8" stroke-width="1.48" fill="white"/>
<ellipse cx="1473.5" cy="938.1999999999999" rx="6.7124999999999995" ry="1.68" stroke-width="1.31" fill="none"/>
<ellipse cx="1473.5" cy="938.1999999999999" rx="2.2375" ry="0.9799999999999999" stroke-width="1.15" fill="none"/>
<path d="M1464.55,941.56 Q1473.5,945.48 1482.45,941.56" stroke-width="0.82" fill="none"/>
<path d="M1509.3,943.1 L1509.3,955 L1514,963.5 L1518.7,955 L1518.7,943.1" stroke-width="1.48" fill="none"/>
<line x1="1509.3" y1="955" x2="1518.7" y2="955" stroke-width="1.0"/>
<path d="M1505.5,933.0999999999999 L1505.5,940.3000000000001 Q1514,945.9 1522.5,940.3000000000001 L1522.5,933.0999999999999" stroke-width="1.48" fill="white"/>
<ellipse cx="1514" cy="933.0999999999999" rx="8.5" ry="2.8" stroke-width="1.48" fill="white"/>
<ellipse cx="1514" cy="933.0999999999999" rx="6.375" ry="1.68" stroke-width="1.31" fill="none"/>
<ellipse cx="1514" cy="933.0999999999999" rx="2.125" ry="0.9799999999999999" stroke-width="1.15" fill="none"/>
<path d="M1505.5,936.4599999999999 Q1514,940.38 1522.5,936.4599999999999" stroke-width="0.82" fill="none"/>
<path d="M1278.0,966.0 L1278.8,955.4 L1282.7,955.0 L1284.4,965.4 L1287.1,965.8 L1290.1,956.0 L1293.9,957.4 L1293.3,968.1 L1295.8,969.7 L1300.8,961.8 L1304.1,964.8 L1301.2,974.7 L1303.2,977.4 L1309.7,972.1 L1312.1,976.4 L1307.2,984.5 L1308.6,987.9 L1315.9,985.8 L1317.3,991.1 L1310.9,996.6 L1311.4,1000.4 L1318.8,1001.7 L1319.0,1007.3 L1311.7,1009.6 L1311.4,1013.6 L1318.2,1018.1 L1317.1,1023.5 L1309.7,1022.5 L1308.6,1026.1 L1314.0,1033.4 L1311.9,1038.1 L1305.1,1033.7 L1303.2,1036.6 L1306.7,1046.1 L1303.7,1049.5 L1298.2,1042.3 L1295.8,1044.3 L1297.1,1054.8 L1293.5,1056.8 L1289.8,1047.4 L1287.1,1048.2 L1286.1,1058.8 L1282.2,1059.0 L1280.7,1048.5 L1278.0,1048.0 L1283,1007 Z" stroke-width="1.39" fill="white"/>
<ellipse cx="1283" cy="1007" rx="27" ry="40" stroke-width="0.98" fill="white"/>
<path d="M1262.7,966.4 Q1275,966 1284,975 Q1295,990 1295.3,1011 Q1294,1030 1282.1,1042.1 Q1276,1047 1270.4,1048.3" stroke-width="1.56" fill="white"/>
<path d="M1270,969.9 Q1287,985 1289,1005 Q1289,1030 1279,1043" stroke-width="1.23" fill="none"/>
<path d="M1272,971 Q1283,985 1286,1000 M1274,972 Q1280,980 1283,992" stroke-width="0.98" fill="none"/>
<path d="M1219,989 Q1220,979 1228.5,975.3 Q1240,970.5 1262.7,966.4 L1270.4,1048.3 Q1255,1050 1245.6,1049.1 Q1234,1048 1231.6,1046 Q1226,1042 1225.4,1037.4" stroke-width="1.56" fill="white"/>
<ellipse cx="1254.5" cy="1008.5" rx="15.5" ry="39.5" stroke-width="1.56" fill="white"/>
<ellipse cx="1257" cy="1008.5" rx="14.5" ry="38" stroke-width="1.97" fill="none"/>
<ellipse cx="1260" cy="1008.5" rx="13" ry="35" stroke-width="1.23" fill="none"/>
<ellipse cx="1262" cy="1009" rx="11.5" ry="32" stroke-width="1.8" fill="none"/>
<ellipse cx="1264" cy="1009" rx="10" ry="29" stroke-width="1.07" fill="none"/>
<path d="M1236,973 Q1248,969 1255,969" stroke-width="1.31" fill="none"/>
<path d="M1203.3,994.7 L1233.2,988.5 Q1236,987 1239,989 Q1247,1000 1247,1014 Q1246,1030 1240.9,1035.1 L1206.7,1039" stroke-width="1.56" fill="white"/>
<ellipse cx="1203.3" cy="1016.8" rx="11.6" ry="22.1" stroke-width="1.64" fill="none"/>
<ellipse cx="1203.3" cy="1016.6" rx="9.6" ry="19.5" stroke-width="1.07" fill="none"/>
<ellipse cx="1203.6" cy="1016.5" rx="7.4" ry="15.5" stroke-width="1.64" fill="none"/>
<path d="M1233.2,988.5 Q1241,995 1242,1012 Q1242,1030 1238,1035" stroke-width="1.07" fill="none"/>
<path d="M1422.0,975.0 L1420.9,986.9 L1402.0,978.7 L1402.2,976.3 Z" stroke-width="1.39" fill="white"/>
<path d="M1417.2,976.7 L1416.6,983.7" stroke-width="1.07" fill="none"/>
<path d="M1419.9,991.4 L1416.1,1002.1 L1400.3,985.3 L1401.1,983.1 Z" stroke-width="1.39" fill="white"/>
<path d="M1415.1,990.7 L1412.8,996.9" stroke-width="1.07" fill="none"/>
<path d="M1414.0,1005.9 L1407.8,1014.0 L1397.1,990.6 L1398.3,988.9 Z" stroke-width="1.39" fill="white"/>
<path d="M1409.6,1002.8 L1406.0,1007.6" stroke-width="1.07" fill="none"/>
<path d="M1405.0,1016.6 L1397.1,1021.2 L1392.7,994.0 L1394.3,993.1 Z" stroke-width="1.39" fill="white"/>
<path d="M1401.6,1011.5 L1397.0,1014.3" stroke-width="1.07" fill="none"/>
<path d="M1393.9,1022.3 L1385.4,1022.9 L1387.8,995.2 L1389.6,995.0 Z" stroke-width="1.39" fill="white"/>
<path d="M1391.9,1015.9 L1386.9,1016.3" stroke-width="1.07" fill="none"/>
<path d="M1382.1,1022.3 L1374.0,1018.7 L1383.0,993.9 L1384.6,994.6 Z" stroke-width="1.39" fill="white"/>
<path d="M1381.8,1015.3 L1377.0,1013.2" stroke-width="1.07" fill="none"/>
<path d="M1371.0,1016.6 L1364.2,1009.3 L1378.7,990.3 L1380.1,991.8 Z" stroke-width="1.39" fill="white"/>
<path d="M1372.4,1009.9 L1368.4,1005.6" stroke-width="1.07" fill="none"/>
<path d="M1362.0,1005.9 L1357.3,995.7 L1375.6,984.9 L1376.5,986.9 Z" stroke-width="1.39" fill="white"/>
<path d="M1364.9,1000.2 L1362.2,994.3" stroke-width="1.07" fill="none"/>
<path d="M1356.1,991.4 L1354.2,979.7 L1373.9,978.3 L1374.3,980.6 Z" stroke-width="1.39" fill="white"/>
<path d="M1360.1,987.6 L1359.0,980.7" stroke-width="1.07" fill="none"/>
<path d="M1354.0,975.0 L1355.1,963.1 L1374.0,971.3 L1373.8,973.7 Z" stroke-width="1.39" fill="white"/>
<path d="M1358.8,973.3 L1359.4,966.3" stroke-width="1.07" fill="none"/>
<path d="M1356.1,958.6 L1359.9,947.9 L1375.7,964.7 L1374.9,966.9 Z" stroke-width="1.39" fill="white"/>
<path d="M1360.9,959.3 L1363.2,953.1" stroke-width="1.07" fill="none"/>
<path d="M1362.0,944.1 L1368.2,936.0 L1378.9,959.4 L1377.7,961.1 Z" stroke-width="1.39" fill="white"/>
<path d="M1366.4,947.2 L1370.0,942.4" stroke-width="1.07" fill="none"/>
<path d="M1371.0,933.4 L1378.9,928.8 L1383.3,956.0 L1381.7,956.9 Z" stroke-width="1.39" fill="white"/>
<path d="M1374.4,938.5 L1379.0,935.7" stroke-width="1.07" fill="none"/>
<path d="M1382.1,927.7 L1390.6,927.1 L1388.2,954.8 L1386.4,955.0 Z" stroke-width="1.39" fill="white"/>
<path d="M1384.1,934.1 L1389.1,933.7" stroke-width="1.07" fill="none"/>
<path d="M1393.9,927.7 L1402.0,931.3 L1393.0,956.1 L1391.4,955.4 Z" stroke-width="1.39" fill="white"/>
<path d="M1394.2,934.7 L1399.0,936.8" stroke-width="1.07" fill="none"/>
<path d="M1405.0,933.4 L1411.8,940.7 L1397.3,959.7 L1395.9,958.2 Z" stroke-width="1.39" fill="white"/>
<path d="M1403.6,940.1 L1407.6,944.4" stroke-width="1.07" fill="none"/>
<path d="M1414.0,944.1 L1418.7,954.3 L1400.4,965.1 L1399.5,963.1 Z" stroke-width="1.39" fill="white"/>
<path d="M1411.1,949.8 L1413.8,955.7" stroke-width="1.07" fill="none"/>
<path d="M1419.9,958.6 L1421.8,970.3 L1402.1,971.7 L1401.7,969.4 Z" stroke-width="1.39" fill="white"/>
<path d="M1415.9,962.4 L1417.0,969.3" stroke-width="1.07" fill="none"/>
<path d="M1450.0,986.0 L1447.7,988.2 L1449.7,990.7 L1447.1,992.5 L1448.7,995.3 L1445.9,996.7 L1447.1,999.7 L1444.1,1000.7 L1444.9,1003.8 L1441.8,1004.4 L1442.2,1007.6 L1439.0,1007.7 L1439.0,1010.9 L1435.8,1010.6 L1435.3,1013.8 L1432.3,1012.9 L1431.3,1016.0 L1428.4,1014.8 L1427.0,1017.7 L1424.3,1016.0 L1422.6,1018.7 L1420.1,1016.6 L1418.0,1019.0 L1415.9,1016.6 L1413.4,1018.7 L1411.7,1016.0 L1409.0,1017.7 L1407.6,1014.8 L1404.7,1016.0 L1403.7,1012.9 L1400.7,1013.8 L1400.2,1010.6 L1397.0,1010.9 L1397.0,1007.7 L1393.8,1007.6 L1394.2,1004.4 L1391.1,1003.8 L1391.9,1000.7 L1388.9,999.7 L1390.1,996.7 L1387.3,995.3 L1388.9,992.5 L1386.3,990.7 L1388.3,988.2 L1386.0,986.0 L1388.3,983.8 L1386.3,981.3 L1388.9,979.5 L1387.3,976.7 L1390.1,975.3 L1388.9,972.3 L1391.9,971.3 L1391.1,968.2 L1394.2,967.6 L1393.8,964.4 L1397.0,964.3 L1397.0,961.1 L1400.2,961.4 L1400.7,958.2 L1403.7,959.1 L1404.7,956.0 L1407.6,957.2 L1409.0,954.3 L1411.7,956.0 L1413.4,953.3 L1415.9,955.4 L1418.0,953.0 L1420.1,955.4 L1422.6,953.3 L1424.3,956.0 L1427.0,954.3 L1428.4,957.2 L1431.3,956.0 L1432.3,959.1 L1435.3,958.2 L1435.8,961.4 L1439.0,961.1 L1439.0,964.3 L1442.2,964.4 L1441.8,967.6 L1444.9,968.2 L1444.1,971.3 L1447.1,972.3 L1445.9,975.3 L1448.7,976.7 L1447.1,979.5 L1449.7,981.3 L1447.7,983.8 Z" stroke-width="1.48" fill="white"/>
<ellipse cx="1419" cy="986" rx="29.5" ry="30.5" stroke-width="1.07" fill="none"/>
<line x1="1418.0" y1="1016.0" x2="1421.0" y2="1010.0" stroke-width="1.2"/>
<line x1="1413.9" y1="1015.7" x2="1417.7" y2="1009.8" stroke-width="1.2"/>
<line x1="1409.8" y1="1014.8" x2="1414.5" y2="1009.0" stroke-width="1.2"/>
<line x1="1406.0" y1="1013.3" x2="1411.4" y2="1007.8" stroke-width="1.2"/>
<line x1="1402.3" y1="1011.2" x2="1408.6" y2="1006.2" stroke-width="1.2"/>
<line x1="1399.0" y1="1008.7" x2="1405.9" y2="1004.1" stroke-width="1.2"/>
<line x1="1396.1" y1="1005.6" x2="1403.6" y2="1001.7" stroke-width="1.2"/>
<line x1="1393.6" y1="1002.2" x2="1401.7" y2="999.0" stroke-width="1.2"/>
<line x1="1391.6" y1="998.5" x2="1400.1" y2="996.0" stroke-width="1.2"/>
<line x1="1390.2" y1="994.5" x2="1398.9" y2="992.8" stroke-width="1.2"/>
<line x1="1389.3" y1="990.3" x2="1398.2" y2="989.4" stroke-width="1.2"/>
<line x1="1389.0" y1="986.0" x2="1398.0" y2="986.0" stroke-width="1.2"/>
<line x1="1389.3" y1="981.7" x2="1398.2" y2="982.6" stroke-width="1.2"/>
<line x1="1390.2" y1="977.5" x2="1398.9" y2="979.2" stroke-width="1.2"/>
<line x1="1391.6" y1="973.5" x2="1400.1" y2="976.0" stroke-width="1.2"/>
<line x1="1393.6" y1="969.8" x2="1401.7" y2="973.0" stroke-width="1.2"/>
<line x1="1396.1" y1="966.4" x2="1403.6" y2="970.3" stroke-width="1.2"/>
<line x1="1399.0" y1="963.3" x2="1405.9" y2="967.9" stroke-width="1.2"/>
<line x1="1402.3" y1="960.8" x2="1408.6" y2="965.8" stroke-width="1.2"/>
<line x1="1406.0" y1="958.7" x2="1411.4" y2="964.2" stroke-width="1.2"/>
<line x1="1409.8" y1="957.2" x2="1414.5" y2="963.0" stroke-width="1.2"/>
<line x1="1413.9" y1="956.3" x2="1417.7" y2="962.2" stroke-width="1.2"/>
<line x1="1418.0" y1="956.0" x2="1421.0" y2="962.0" stroke-width="1.2"/>
<line x1="1422.1" y1="956.3" x2="1424.3" y2="962.2" stroke-width="1.2"/>
<line x1="1426.2" y1="957.2" x2="1427.5" y2="963.0" stroke-width="1.2"/>
<line x1="1426.2" y1="1014.8" x2="1427.5" y2="1009.0" stroke-width="1.2"/>
<line x1="1422.1" y1="1015.7" x2="1424.3" y2="1009.8" stroke-width="1.2"/>
<ellipse cx="1423" cy="987" rx="23" ry="25" stroke-width="1.23" fill="white"/>
<ellipse cx="1424" cy="987.5" rx="21.5" ry="23.5" stroke-width="1.8" fill="none"/>
<ellipse cx="1427" cy="989" rx="16" ry="18" stroke-width="1.64" fill="none"/>
<ellipse cx="1432" cy="991" rx="10.5" ry="12.5" stroke-width="1.8" fill="none"/>
<ellipse cx="1435" cy="992.5" rx="7.5" ry="9.5" stroke-width="1.31" fill="none"/>
<path d="M1432,986 L1441,983 M1436,1001 L1444,1000" stroke-width="1.48" fill="none"/>
<ellipse cx="1443.8" cy="995.5" rx="5.2" ry="6.2" stroke-width="1.64" fill="white"/>
<path d="M1316.4,1117.5 L1298.5,1108.5 Q1296,1105 1302.6,1103.7 L1651.7,1051.8 L1655.6,1052.2 L1737,1088.5 Q1738,1091 1734,1091.4 L1722.3,1091.4 L1451.7,1132.2 Q1400,1140.5 1383,1142 L1371.3,1142 L1349.7,1132.2" stroke-width="3.3" fill="none"/>
<path d="M1316.4,1117.5 L1298.5,1108.5 Q1296,1105 1302.6,1103.7 L1651.7,1051.8 L1655.6,1052.2 L1737,1088.5 Q1738,1091 1734,1091.4 L1722.3,1091.4 L1451.7,1132.2 Q1400,1140.5 1383,1142 L1371.3,1142 L1349.7,1132.2" stroke-width="0.9" stroke="#fff" fill="none"/>
<ellipse cx="1871.6" cy="598.7" rx="9.8" ry="13" stroke-width="1.8" fill="none"/>
<ellipse cx="1871.8" cy="599.5" rx="7.3" ry="9.6" stroke-width="1.15" fill="none"/>
<path d="M1866,588 Q1870,585 1876,586.5 L1881,590" stroke-width="1.97" fill="none"/>
<ellipse cx="2042.8" cy="678" rx="10" ry="13.2" stroke-width="1.8" fill="none"/>
<ellipse cx="2042.8" cy="677.5" rx="7.5" ry="10" stroke-width="1.15" fill="none"/>
<path d="M2038,689 L2040,691 M2045,691 L2047,689 M2036,687 Q2042.5,693 2049,687" stroke-width="1.48" fill="none"/>
<path d="M1896,593.3 L1955.3,582.3 Q1960,580 1964.4,576.9 Q1975,573.5 1991.7,573.7 Q2010,574.5 2016.3,580.5 Q2018.5,587 2018.2,599.6 Q2016,604 2002.7,605.1" stroke-width="1.64" fill="none"/>
<path d="M1981,578.5 L1986,576.5 L1995,576.5 L2000,579 L1996,582 L1984,582 Z" stroke-width="1.31" fill="none"/>
<path d="M1990.5,576.5 L1990.5,582 M1982,579.3 L1999,579.3" stroke-width="0.82" fill="none"/>
<path d="M1964.5,583 Q1975,585 1990,586 Q2005,586 2016.5,583" stroke-width="1.23" fill="none"/>
<path d="M1909.7,599.6 L1962,590 L1967,586.5 L1973,586 L1976,589 L2001,589.5" stroke-width="1.31" fill="none"/>
<path d="M1912.4,601.5 L1959.8,590.5" stroke-width="1.15" fill="none"/>
<path d="M1922.5,607.8 L1966,598 L2001.8,597.8 L2001.8,623.3" stroke-width="1.31" fill="none"/>
<path d="M1930.7,621.5 L1942,619.5" stroke-width="1.15" fill="none"/>
<path d="M1970,586 L1970,594 M1975,586 L1975,594" stroke-width="1.07" fill="none"/>
<path d="M1940.7,619.7 Q1941,614 1946,613.5 L1955.3,612.4 L2010,606.9 Q2018,607.5 2018.2,613.3 L2018.2,623.3 Q2016,628.5 2008,629.5 L1990.9,630.6 L1961.7,632.5" stroke-width="1.64" fill="none"/>
<path d="M1941.6,614.5 L1961.7,612.5 L1961.7,619 L1943,621 Q1940,618 1941.6,614.5" stroke-width="1.31" fill="none"/>
<ellipse cx="1987.2" cy="610.1" rx="10" ry="2.3" stroke-width="1.23" fill="none"/>
<path d="M1961.7,619 L2001.8,616" stroke-width="1.23" fill="none"/>
<path d="M1918.8,637 L1940.7,634.3 M1959.8,630.6 L2017.3,625.2" stroke-width="1.31" fill="none"/>
<path d="M1961,634.5 Q1990,635 2016,628" stroke-width="1.07" fill="none"/>
<path d="M1895.1,593.7 Q1882,597 1880.5,616 Q1882,633 1911.5,638.8" stroke-width="1.64" fill="none"/>
<path d="M1901,595 Q1886,602 1885.5,617 Q1888,632 1913,638" stroke-width="1.31" fill="none"/>
<path d="M1910,596 Q1894,604 1894,619 Q1897,633 1915,637.5" stroke-width="1.31" fill="none"/>
<path d="M1915.5,599 Q1900,607 1900,621 Q1902,634 1916,637" stroke-width="1.97" fill="none"/>
<path d="M1920,603 Q1908,610 1907.5,622 Q1909,634 1918,636.5" stroke-width="1.31" fill="none"/>
<path d="M1925,606 Q1913,612 1912.5,623 Q1914,633 1921,636" stroke-width="1.15" fill="none"/>
<line x1="1908" y1="624.5" x2="1914" y2="624.5" stroke-width="1.2"/>
<ellipse cx="1923.4" cy="622.9" rx="7.3" ry="8.7" stroke-width="1.56" fill="white"/>
<path d="M1950.7,627 L2023.6,658.9 M1945.2,642.5 L2017.3,673.5" stroke-width="1.56" fill="none"/>
<ellipse cx="1946.2" cy="634.7" rx="5.5" ry="8.7" stroke-width="2.13" fill="white"/>
<ellipse cx="1947.3" cy="635" rx="4.5" ry="8" stroke-width="0.98" fill="none"/>
<ellipse cx="2019.5" cy="667" rx="7.2" ry="8.6" stroke-width="2.3" fill="white"/>
<ellipse cx="2021.8" cy="667.6" rx="6.8" ry="8.4" stroke-width="1.48" fill="white"/>
<path d="M1999.7,906.2 L1999.7,976 Q2015.4,986 2031,976 L2031,906.2" stroke-width="1.56" fill="none"/>
<ellipse cx="2015.4" cy="906.2" rx="15.7" ry="5.2" stroke-width="1.56" fill="none"/>
<path d="M2012,904 L2012.4,874.4 Q2013.5,862 2019,857.5 Q2026,853 2034,852.5 Q2040,852.5 2043,855 Q2048,860 2049.6,869.5 Q2051,885 2051.6,892 Q2055,905 2057.5,913.6 Q2058.8,922 2058.5,928.3 L2057.5,946" stroke-width="2.9" fill="none"/>
<path d="M2012,904 L2012.4,874.4 Q2013.5,862 2019,857.5 Q2026,853 2034,852.5 Q2040,852.5 2043,855 Q2048,860 2049.6,869.5 Q2051,885 2051.6,892 Q2055,905 2057.5,913.6 Q2058.8,922 2058.5,928.3 L2057.5,946" stroke-width="0.8" stroke="#fff" fill="none"/>
<path d="M2019,907 L2019.3,874.4 Q2021,864 2028,860 Q2034,857.5 2039,857.7 Q2044,859 2045.7,862.6 Q2047,875 2047.7,889.1 Q2050,902 2053.6,913.6 Q2054.5,930 2053.6,943" stroke-width="2.9" fill="none"/>
<path d="M2019,907 L2019.3,874.4 Q2021,864 2028,860 Q2034,857.5 2039,857.7 Q2044,859 2045.7,862.6 Q2047,875 2047.7,889.1 Q2050,902 2053.6,913.6 Q2054.5,930 2053.6,943" stroke-width="0.8" stroke="#fff" fill="none"/>
<path d="M528.2,1038.8 L1119.4,949.1 Q1137,948 1143,956 Q1147.4,962 1147.4,968 Q1150.3,990 1150.3,1000 L1153.2,1047.6 L1154.7,1065.3 Q1154,1077 1148.8,1080 Q1146,1082 1142.9,1083 L557.6,1169.7 L551.8,1169.7 Q528,1162 519.4,1147.6 Q516,1125 516.5,1106.5 Q517,1085 519.4,1068.2 Q521,1050 523.8,1041.8 Q526,1039 528.2,1038.8 Z" stroke-width="1.8" fill="none"/>
<path d="M528.2,1038.8 Q545,1039 548.8,1046.2 Q553,1050 553.2,1055 L560.6,1121.2 L560.6,1165.3 Q559,1169 557.6,1169.7" stroke-width="1.64" fill="none"/>
<path d="M548.8,1046.2 L1140,960.9" stroke-width="1.48" fill="none"/>
<path d="M553.2,1059.4 L1144.4,971.2" stroke-width="1.48" fill="none"/>
<path d="M560.6,1132.9 L1150.3,1046.2" stroke-width="1.8" fill="none"/>
<path d="M560.6,1135.5 L1150.3,1049" stroke-width="0.98" fill="none"/>
<path d="M560.6,1152 L1151.8,1065.3" stroke-width="1.48" fill="none"/>
<path d="M525,1042 Q528,1040.5 539.4,1041.5 Q548,1046 552,1054 L553.5,1062 L558.5,1137 L558.5,1163 Q556,1167 552,1166 L539.4,1163 Q530,1159 526,1155 Q520,1148 519.5,1140 Q518.5,1118 519,1100 Q520,1075 521.5,1060 Q522.5,1047 525,1042 Z" stroke-width="1.31" fill="none"/>
<path d="M524.7,1058.4 L553.1,1055.4 M525.7,1063.3 L553.5,1060.5" stroke-width="1.48" fill="none"/>
<path d="M528.6,1066.5 L530,1080.9 L548.2,1078.9 L547.5,1070 L553,1069" stroke-width="1.23" fill="none"/>
<path d="M530.5,1081 Q523,1092 522,1110 Q523,1130 530,1140" stroke-width="1.31" fill="none"/>
<path d="M548,1080 Q556,1095 557,1112 Q556,1132 548,1146" stroke-width="1.31" fill="none"/>
<path d="M529.6,1140.6 L557,1137.7 M530,1141 L530.6,1156.3 M537,1150 L537,1162 M544,1148 L544.5,1164 M548,1152 L556,1151" stroke-width="1.23" fill="none"/>
<path d="M528,1043 Q534,1041 536,1044 L544,1043 Q550,1048 549,1054" stroke-width="1.07" fill="none"/>
<ellipse cx="526" cy="1070" rx="1.5" ry="2" stroke-width="0.9" fill="none"/>
<ellipse cx="527" cy="1148" rx="1.5" ry="2" stroke-width="0.9" fill="none"/>
<path d="M1014.5,1259.2 L1056.7,1247 Q1062,1243 1072,1242 L1089.1,1240.5 Q1098,1242 1102,1245.4 L1103.7,1277 L1115,1272.1 L1142.6,1267.3 Q1158,1268 1168.5,1273.8 L1167.7,1291.6 Q1165,1305 1160.4,1312.6 Q1159,1315 1157.1,1315.9 L1071.3,1323.2 Q1067,1322 1064.8,1319.1 L1034,1304.5 Q1024,1296 1021,1283.5 Q1016,1270 1014.5,1259.2 Z" stroke-width="1.8" fill="none"/>
<path d="M1016,1261 L1056.7,1250 Q1059,1250 1059,1256 L1059,1284 Q1060,1293 1066,1296 Q1070,1298 1067,1300" stroke-width="1.48" fill="none"/>
<path d="M1018,1263 Q1021,1280 1030,1292 Q1042,1304 1060,1312 Q1065,1313 1066,1308" stroke-width="1.31" fill="none"/>
<path d="M1063,1282 L1103.7,1277" stroke-width="1.31" fill="none"/>
<path d="M1063,1282 Q1070,1283 1071,1295 L1071.3,1323.2" stroke-width="1.64" fill="none"/>
<path d="M1066,1286 Q1072,1300 1070,1316 M1064.5,1290 Q1067,1306 1063,1318" stroke-width="1.15" fill="none"/>
<path d="M1069,1249 L1071,1275" stroke-width="1.31" fill="none"/>
<path d="M1071,1281 L1164,1272" stroke-width="1.31" fill="none"/>
<path d="M1115,1322 Q1120,1309 1130,1306 Q1145,1304 1155,1306 Q1160,1309 1158,1315" stroke-width="1.48" fill="none"/>
<path d="M1130,1306 Q1144,1307 1155,1309" stroke-width="0.98" fill="none"/>
<ellipse cx="1075.5" cy="1246.5" rx="8.5" ry="2.8" stroke-width="1.31" fill="none"/>
<ellipse cx="1075.5" cy="1246.5" rx="5" ry="1.6" stroke-width="0.98" fill="none"/>
<ellipse cx="1087" cy="1244" rx="8.5" ry="2.8" stroke-width="1.31" fill="none"/>
<ellipse cx="1087" cy="1244" rx="5" ry="1.6" stroke-width="0.98" fill="none"/>
<ellipse cx="1119" cy="1271" rx="8.5" ry="2.8" stroke-width="1.31" fill="none"/>
<ellipse cx="1119" cy="1271" rx="5" ry="1.6" stroke-width="0.98" fill="none"/>
<ellipse cx="1136.5" cy="1268.5" rx="8.5" ry="2.8" stroke-width="1.31" fill="none"/>
<ellipse cx="1136.5" cy="1268.5" rx="5" ry="1.6" stroke-width="0.98" fill="none"/>
<path d="M1062.0,1372.6 L1062.0,1350 L1068,1341 L1074.0,1350 L1074.0,1372.6" stroke-width="1.48" fill="none"/>
<line x1="1062.0" y1="1350" x2="1074.0" y2="1350" stroke-width="1.2"/>
<path d="M1059.0,1374.6 L1059.0,1382 Q1068,1386 1077.0,1382 L1077.0,1374.6 Q1068,1370.6 1059.0,1374.6 Z" stroke-width="1.48" fill="white"/>
<path d="M1080.95,1369.4 L1080.95,1346.7 L1086.7,1337 L1092.45,1346.7 L1092.45,1369.4" stroke-width="1.48" fill="none"/>
<line x1="1080.95" y1="1346.7" x2="1092.45" y2="1346.7" stroke-width="1.2"/>
<path d="M1077.45,1371.4 L1077.45,1378.7 Q1086.7,1382.7 1095.95,1378.7 L1095.95,1371.4 Q1086.7,1367.4 1077.45,1371.4 Z" stroke-width="1.48" fill="white"/>
<path d="M1119.75,1397.7 L1119.75,1375.8 L1125.5,1366.1 L1131.25,1375.8 L1131.25,1397.7" stroke-width="1.48" fill="none"/>
<line x1="1119.75" y1="1375.8" x2="1131.25" y2="1375.8" stroke-width="1.2"/>
<path d="M1116.5,1399.7 L1116.5,1407.9 Q1125.5,1411.9 1134.5,1407.9 L1134.5,1399.7 Q1125.5,1395.7 1116.5,1399.7 Z" stroke-width="1.48" fill="white"/>
<path d="M1140.85,1395.3 L1140.85,1372.6 L1146.6,1363.7 L1152.35,1372.6 L1152.35,1395.3" stroke-width="1.48" fill="none"/>
<line x1="1140.85" y1="1372.6" x2="1152.35" y2="1372.6" stroke-width="1.2"/>
<path d="M1137.6,1397.3 L1137.6,1405.4 Q1146.6,1409.4 1155.6,1405.4 L1155.6,1397.3 Q1146.6,1393.3 1137.6,1397.3 Z" stroke-width="1.48" fill="white"/>
<path d="M1276.4,1212 L1297.3,1207.4 L1301.9,1201 L1306.5,1198.3 L1350.2,1191.9 L1352,1177 Q1354,1175.5 1357.5,1175 L1390.3,1169.6 Q1396,1168.8 1401.3,1169.1 Q1407,1169.5 1410.4,1171.8 L1411.3,1182.3 L1618.3,1152.8 Q1630,1150 1648,1150.5 L1651.1,1148.2 L1671.1,1155.5 L1698.5,1150.9 Q1718,1150.5 1735,1157.3 L1735,1176.5 L1767.8,1171.9 Q1776,1172.5 1776,1179.2 L1775,1199.2 L1774.1,1224.8 Q1773,1227.2 1767.8,1228.4 L1580,1255.8 L1480,1269.4 L1345.7,1287.6 L1338.4,1287.6 L1297.3,1269.4 Q1291,1266 1288.2,1263 Q1282,1255 1279.1,1246.6 Q1277,1238 1276.8,1232.9 Z" stroke-width="1.64" fill="none"/>
<path d="M1651.1,1148.2 L1729.5,1182.8" stroke-width="1.8" fill="none"/>
<path d="M1652.5,1150 L1652.5,1178" stroke-width="1.31" fill="none"/>
<path d="M1690.3,1163.7 L1735,1157.3" stroke-width="1.31" fill="none"/>
<path d="M1411.3,1198.3 L1411.3,1182.3" stroke-width="1.31" fill="none"/>
<path d="M1348.4,1248.9 L1580,1217.5 L1738.6,1192" stroke-width="1.64" fill="none"/>
<path d="M1350.2,1236 L1580,1207.5 L1729.5,1185" stroke-width="1.31" fill="none"/>
<path d="M1410,1213 L1580,1202 L1618.3,1199.2" stroke-width="1.15" fill="none"/>
<path d="M1738.6,1187.4 L1768.7,1183.8 Q1766,1192 1752,1196 Q1747,1197 1745.9,1195 Q1745,1191 1741,1190" stroke-width="1.48" fill="none"/>
<path d="M1746,1196.5 Q1755,1195 1766,1188" stroke-width="2.13" fill="none"/>
<path d="M1729.5,1176.5 L1767.8,1171.9" stroke-width="1.31" fill="none"/>
<path d="M1775,1199.2 L1774,1201" stroke-width="0.98" fill="none"/>
<path d="M1618.3,1153 L1618.3,1199.2 M1648.4,1153 L1648.4,1196" stroke-width="1.48" fill="none"/>
<ellipse cx="1633.6" cy="1153.7" rx="14.5" ry="3.3" stroke-width="1.31" fill="none"/>
<ellipse cx="1634" cy="1153.8" rx="5.5" ry="1.4" stroke-width="1.48" fill="none"/>
<path d="M1662,1166.4 L1692.1,1180.1 M1662,1166.4 L1659.3,1178.3 L1652,1183 L1647,1186.5" stroke-width="1.31" fill="none"/>
<path d="M1632.9,1198.3 L1634,1189 Q1637,1187.4 1648,1187.5 L1651.1,1189 L1651.1,1195" stroke-width="1.23" fill="none"/>
<path d="M1674.9,1173.5 L1675,1187.5 Q1679,1189 1685,1188" stroke-width="1.15" fill="none"/>
<ellipse cx="1700.3" cy="1183.3" rx="13.7" ry="3.5" stroke-width="1.31" fill="white"/>
<ellipse cx="1700.3" cy="1183.3" rx="6" ry="1.5" stroke-width="1.31" fill="none"/>
<path d="M1717,1184 L1717,1192 L1730,1190 L1730,1184" stroke-width="1.15" fill="none"/>
<path d="M1688.5,1238 Q1698,1228 1705.8,1226.6 Q1711,1226.5 1712.2,1231.1 L1716.7,1233.9" stroke-width="1.31" fill="none"/>
<path d="M1370.3,1284 Q1377,1276 1382.1,1274 Q1389,1273.5 1391.2,1276.7 L1393,1280.3" stroke-width="1.31" fill="none"/>
<path d="M1354.8,1249.3 Q1356.5,1265 1355.7,1270 Q1354,1282 1346.6,1287.2" stroke-width="1.48" fill="none"/>
<path d="M1339.3,1250.2 Q1343,1268 1342.9,1282.1" stroke-width="1.23" fill="none"/>
<path d="M1276.4,1212 L1276.6,1227.4 L1295.5,1224.8 L1295.5,1208" stroke-width="1.31" fill="none"/>
<path d="M1279.1,1227.4 Q1281,1245 1287,1255 Q1292,1260 1290,1257" stroke-width="0.98" fill="none"/>
<path d="M1289.1,1227.4 L1310.1,1225.6 L1310.1,1240 M1289.6,1229.3 L1289.6,1258.4 M1290,1238 L1310,1236" stroke-width="1.31" fill="none"/>
<path d="M1296,1230 Q1297,1250 1303,1262 Q1318,1270 1334,1273 L1336.5,1251.1" stroke-width="1.31" fill="none"/>
<path d="M1297,1264 L1310,1262 L1330,1268" stroke-width="1.15" fill="none"/>
<path d="M1314.7,1213.8 Q1315,1232 1320,1243 Q1327,1250 1333.8,1249.3 Q1342,1247 1344.7,1242 L1348.4,1225.6" stroke-width="1.48" fill="none"/>
<path d="M1322,1214 Q1324,1232 1330,1242 M1327,1214 Q1329,1230 1336,1241 M1333,1214 Q1336,1228 1340,1236" stroke-width="1.07" fill="none"/>
<path d="M1317,1212.5 L1327,1214 L1345,1212 L1348.4,1225.6" stroke-width="1.23" fill="none"/>
<path d="M1301.9,1203 L1301.9,1211.5 M1331.9,1203 L1331.9,1210" stroke-width="1.31" fill="none"/>
<ellipse cx="1316.9" cy="1202.8" rx="15" ry="5" stroke-width="1.31" fill="white"/>
<ellipse cx="1316.9" cy="1202.6" rx="6" ry="1.8" stroke-width="1.31" fill="none"/>
<path d="M1301,1210 L1318,1214" stroke-width="1.15" fill="none"/>
<path d="M1352,1177 L1352,1228.4 M1354,1177.5 L1354.5,1228" stroke-width="1.48" fill="none"/>
<path d="M1370.3,1179 L1370.3,1212 M1393,1172 L1393,1196" stroke-width="1.31" fill="none"/>
<ellipse cx="1360.2" cy="1176.9" rx="8" ry="2.5" stroke-width="1.31" fill="white"/>
<ellipse cx="1360.2" cy="1176.9" rx="3" ry="1" stroke-width="0.98" fill="none"/>
<ellipse cx="1401.3" cy="1171.4" rx="8" ry="2.5" stroke-width="1.31" fill="white"/>
<ellipse cx="1401.3" cy="1171.4" rx="3" ry="1" stroke-width="0.98" fill="none"/>
<path d="M1371.2,1179.1 L1372.1,1201.9 Q1377,1208 1388.5,1206.5 Q1396,1204 1397.6,1198.3 L1399.4,1186.4 L1399.6,1173" stroke-width="1.48" fill="none"/>
<path d="M1375,1204.5 L1385,1203" stroke-width="0.98" fill="none"/>
<path d="M1367.5,1214.7 L1402.2,1211 L1403.1,1231.1" stroke-width="1.31" fill="none"/>
<path d="M1356,1228 L1372,1236" stroke-width="1.23" fill="none"/>
<path d="M1370,1231 L1370,1242 M1387,1240 L1387,1243" stroke-width="1.07" fill="none"/>
<ellipse cx="1382.1" cy="1230.6" rx="13" ry="3.5" stroke-width="1.31" fill="white"/>
<ellipse cx="1382.1" cy="1230.6" rx="5" ry="1.5" stroke-width="1.31" fill="none"/>
<path d="M1404,1199.2 L1404.9,1231 M1421.3,1201 L1423.5,1226" stroke-width="1.48" fill="none"/>
<ellipse cx="1413.1" cy="1199.6" rx="8.3" ry="2.2" stroke-width="1.31" fill="white"/>
<ellipse cx="1413.1" cy="1199.6" rx="3" ry="0.9" stroke-width="0.98" fill="none"/>
<path d="M1441.4,1211 L1442,1195 M1460,1194 L1461,1224" stroke-width="1.39" fill="none"/>
<ellipse cx="1451.4" cy="1193.3" rx="9" ry="2.5" stroke-width="1.31" fill="white"/>
<ellipse cx="1451.4" cy="1193.3" rx="3.5" ry="1" stroke-width="0.98" fill="none"/>
<path d="M1441.4,1211 Q1443,1222 1450,1224 Q1456,1222 1456.5,1215 L1457,1197" stroke-width="1.31" fill="none"/>
<path d="M1461.4,1215 L1466,1213.8 L1468.7,1222" stroke-width="1.15" fill="none"/>
<path d="M1310.1,1324.5 L1310.1,1303.5 L1316.5,1293.1 L1322.9,1303.5 L1322.9,1324.5" stroke-width="1.48" fill="none"/>
<line x1="1310.1" y1="1303.5" x2="1322.9" y2="1303.5" stroke-width="1.2"/>
<path d="M1307.8,1326.5 L1307.8,1334.2 Q1316.5,1338.2 1325.2,1334.2 L1325.2,1326.5 Q1316.5,1322.5 1307.8,1326.5 Z" stroke-width="1.48" fill="white"/>
<path d="M1375.3,1353.6 L1375.3,1332.7 L1381.7,1322.2 L1388.1000000000001,1332.7 L1388.1000000000001,1353.6" stroke-width="1.48" fill="none"/>
<line x1="1375.3" y1="1332.7" x2="1388.1000000000001" y2="1332.7" stroke-width="1.2"/>
<path d="M1373.0,1355.6 L1373.0,1363.3 Q1381.7,1367.3 1390.4,1363.3 L1390.4,1355.6 Q1381.7,1351.6 1373.0,1355.6 Z" stroke-width="1.48" fill="white"/>
<path d="M1628.05,1275.6 L1628.05,1257 L1634.5,1247.6 L1640.95,1257 L1640.95,1275.6" stroke-width="1.48" fill="none"/>
<line x1="1628.05" y1="1257" x2="1640.95" y2="1257" stroke-width="1.2"/>
<path d="M1625.15,1277.6 L1625.15,1286.4 Q1634.5,1290.4 1643.85,1286.4 L1643.85,1277.6 Q1634.5,1273.6 1625.15,1277.6 Z" stroke-width="1.48" fill="white"/>
<path d="M1694.3999999999999,1305.9 L1694.3999999999999,1284.9 L1700.8,1274.4 L1707.2,1284.9 L1707.2,1305.9" stroke-width="1.48" fill="none"/>
<line x1="1694.3999999999999" y1="1284.9" x2="1707.2" y2="1284.9" stroke-width="1.2"/>
<path d="M1692.05,1307.9 L1692.05,1316.7 Q1700.8,1320.7 1709.55,1316.7 L1709.55,1307.9 Q1700.8,1303.9 1692.05,1307.9 Z" stroke-width="1.48" fill="white"/>
<path d="M2092.8,1151.3 L2112.6,1147.8 L2173.6,1169.8 L2173.6,1186.1 L2167.9,1189.6 L2167.9,1200.2 L2152.3,1202.4 L2143.1,1202.4 L2134.6,1198.8 L2093.5,1181.8 Z" stroke-width="1.48" fill="white"/>
<path d="M2092.8,1151.3 L2098.8,1149.3 L2106.8,1152.3 L2100.8,1154.3 Z" stroke-width="1.15" fill="none"/>
<path d="M2092.8,1151.3 L2092.8,1169.8 L2100.8,1172.8 L2100.8,1154.3" stroke-width="1.31" fill="none"/>
<path d="M2094.6000000000004,1156.3 L2094.6000000000004,1166.3 L2097.3,1167.3 L2097.3,1157.3 Z" stroke-width="1.64" fill="none"/>
<path d="M2100.3,1171.3 L2100.3,1182.3 Q2104.8,1184.3 2108.8,1182.3 L2108.8,1173.3" stroke-width="1.23" fill="none"/>
<path d="M2101.8,1154.3 L2107.8,1152.3 L2115.8,1155.3 L2109.8,1157.3 Z" stroke-width="1.15" fill="none"/>
<path d="M2101.8,1154.3 L2101.8,1172.8 L2109.8,1175.8 L2109.8,1157.3" stroke-width="1.31" fill="none"/>
<path d="M2103.6000000000004,1159.3 L2103.6000000000004,1169.3 L2106.3,1170.3 L2106.3,1160.3 Z" stroke-width="1.64" fill="none"/>
<path d="M2109.3,1174.3 L2109.3,1185.3 Q2113.8,1187.3 2117.8,1185.3 L2117.8,1176.3" stroke-width="1.23" fill="none"/>
<path d="M2110.8,1157.3 L2116.8,1155.3 L2124.8,1158.3 L2118.8,1160.3 Z" stroke-width="1.15" fill="none"/>
<path d="M2110.8,1157.3 L2110.8,1175.8 L2118.8,1178.8 L2118.8,1160.3" stroke-width="1.31" fill="none"/>
<path d="M2112.6000000000004,1162.3 L2112.6000000000004,1172.3 L2115.3,1173.3 L2115.3,1163.3 Z" stroke-width="1.64" fill="none"/>
<path d="M2118.3,1177.3 L2118.3,1188.3 Q2122.8,1190.3 2126.8,1188.3 L2126.8,1179.3" stroke-width="1.23" fill="none"/>
<path d="M2119.8,1160.3 L2125.8,1158.3 L2133.8,1161.3 L2127.8,1163.3 Z" stroke-width="1.15" fill="none"/>
<path d="M2119.8,1160.3 L2119.8,1178.8 L2127.8,1181.8 L2127.8,1163.3" stroke-width="1.31" fill="none"/>
<path d="M2121.6000000000004,1165.3 L2121.6000000000004,1175.3 L2124.3,1176.3 L2124.3,1166.3 Z" stroke-width="1.64" fill="none"/>
<path d="M2127.3,1180.3 L2127.3,1191.3 Q2131.8,1193.3 2135.8,1191.3 L2135.8,1182.3" stroke-width="1.23" fill="none"/>
<path d="M2128.8,1163.3 L2134.8,1161.3 L2142.8,1164.3 L2136.8,1166.3 Z" stroke-width="1.15" fill="none"/>
<path d="M2128.8,1163.3 L2128.8,1181.8 L2136.8,1184.8 L2136.8,1166.3" stroke-width="1.31" fill="none"/>
<path d="M2130.6000000000004,1168.3 L2130.6000000000004,1178.3 L2133.3,1179.3 L2133.3,1169.3 Z" stroke-width="1.64" fill="none"/>
<path d="M2136.3,1183.3 L2136.3,1194.3 Q2140.8,1196.3 2144.8,1194.3 L2144.8,1185.3" stroke-width="1.23" fill="none"/>
<path d="M2137.8,1166.3 L2143.8,1164.3 L2151.8,1167.3 L2145.8,1169.3 Z" stroke-width="1.15" fill="none"/>
<path d="M2137.8,1166.3 L2137.8,1184.8 L2145.8,1187.8 L2145.8,1169.3" stroke-width="1.31" fill="none"/>
<path d="M2139.6000000000004,1171.3 L2139.6000000000004,1181.3 L2142.3,1182.3 L2142.3,1172.3 Z" stroke-width="1.64" fill="none"/>
<path d="M2145.3,1186.3 L2145.3,1197.3 Q2149.8,1199.3 2153.8,1197.3 L2153.8,1188.3" stroke-width="1.23" fill="none"/>
<path d="M2146.8,1169.3 L2152.8,1167.3 L2160.8,1170.3 L2154.8,1172.3 Z" stroke-width="1.15" fill="none"/>
<path d="M2146.8,1169.3 L2146.8,1187.8 L2154.8,1190.8 L2154.8,1172.3" stroke-width="1.31" fill="none"/>
<path d="M2148.6000000000004,1174.3 L2148.6000000000004,1184.3 L2151.3,1185.3 L2151.3,1175.3 Z" stroke-width="1.64" fill="none"/>
<path d="M2112.6,1147.8 L2119.6,1146.3 L2123.6,1148.3" stroke-width="1.15" fill="none"/>
<path d="M2121.6,1150.8 L2128.6,1149.3 L2132.6,1151.3" stroke-width="1.15" fill="none"/>
<path d="M2130.6,1153.8 L2137.6,1152.3 L2141.6,1154.3" stroke-width="1.15" fill="none"/>
<path d="M2139.6,1156.8 L2146.6,1155.3 L2150.6,1157.3" stroke-width="1.15" fill="none"/>
<path d="M2148.6,1159.8 L2155.6,1158.3 L2159.6,1160.3" stroke-width="1.15" fill="none"/>
<path d="M2157.6,1162.8 L2164.6,1161.3 L2168.6,1163.3" stroke-width="1.15" fill="none"/>
<path d="M2175,1180.4 L2189.5,1188 M2171.5,1188.9 L2180.5,1193.8" stroke-width="1.15" fill="none"/>
<path d="M2113.1,1220.5 L2113.1,1196.5 L2116.2,1192.5 L2119.2999999999997,1196.5 L2119.2999999999997,1220.5" stroke-width="1.31" fill="none"/>
<line x1="2113.1" y1="1196.5" x2="2119.2999999999997" y2="1196.5" stroke-width="1.0"/>
<path d="M2110.3999999999996,1220.5 Q2116.2,1218.0 2122.0,1220.5 L2122.0,1221.7 Q2116.2,1224.3 2110.3999999999996,1221.7 Z" stroke-width="1.31" fill="white"/>
<path d="M2148.2000000000003,1235 L2148.2000000000003,1212 L2151.3,1208 L2154.4,1212 L2154.4,1235" stroke-width="1.31" fill="none"/>
<line x1="2148.2000000000003" y1="1212" x2="2154.4" y2="1212" stroke-width="1.0"/>
<path d="M2145.8,1235 Q2151.3,1232.5 2156.8,1235 L2156.8,1236.2 Q2151.3,1238.8 2145.8,1236.2 Z" stroke-width="1.31" fill="white"/>
<ellipse cx="2190.6" cy="1181.1" rx="7" ry="2.3" stroke-width="1.97" fill="none"/>
<ellipse cx="2190.6" cy="1181.1" rx="4.5" ry="1.1" stroke-width="1.15" fill="none"/>
<ellipse cx="2190.6" cy="1189.6" rx="7" ry="2.3" stroke-width="1.97" fill="none"/>
<ellipse cx="2190.6" cy="1189.6" rx="4.5" ry="1.1" stroke-width="1.15" fill="none"/>
<ellipse cx="2190.6" cy="1197.8" rx="7" ry="2.3" stroke-width="1.97" fill="none"/>
<ellipse cx="2190.6" cy="1197.8" rx="4.5" ry="1.1" stroke-width="1.15" fill="none"/>
<path d="M2186.4,1200.5 L2186.4,1212 M2194.2,1200.5 L2194.2,1212" stroke-width="1.31" fill="none"/>
<path d="M2186.4,1205 Q2190.3,1207 2194.2,1205" stroke-width="0.98" fill="none"/>
<path d="M2183.5,1213 L2183.5,1216.5 Q2190.6,1220.5 2197.7,1216.5 L2197.7,1213" stroke-width="1.31" fill="none"/>
<ellipse cx="2190.6" cy="1213" rx="7.1" ry="2.2" stroke-width="1.31" fill="white"/>
<path d="M2152.8,1242.3 L2162.5,1232.7 L2172.7,1237.9 L2172.7,1265.5 L2163.0,1276.4 L2152.8,1270.3 Z" stroke-width="1.48" fill="white"/>
<path d="M2162.46,1232.7 L2167.98,1233.574 L2180.4,1246.684 L2180.4,1269.845 L2169.9120000000003,1275.9630000000002 L2163.012,1276.4 M2172.672,1237.944 L2180.4,1246.684 M2172.672,1265.4750000000001 L2180.4,1269.845" stroke-width="1.31" fill="none"/>
<ellipse cx="2163.2" cy="1255.1" rx="6.623999999999978" ry="12.673000000000012" stroke-width="1.48" fill="none"/>
<ellipse cx="2164.2" cy="1255.1" rx="4.415999999999985" ry="10.925000000000011" stroke-width="1.07" fill="none"/>
<path d="M2202.3,1266.2 L2212.2,1256.8 L2222.6,1261.9 L2222.6,1288.8 L2212.7,1299.4 L2202.3,1293.4 Z" stroke-width="1.48" fill="white"/>
<path d="M2212.17,1256.8 L2217.81,1257.652 L2230.5,1270.432 L2230.5,1293.01 L2219.784,1298.9740000000002 L2212.734,1299.4 M2222.6040000000003,1261.912 L2230.5,1270.432 M2222.6040000000003,1288.75 L2230.5,1293.01" stroke-width="1.31" fill="none"/>
<ellipse cx="2212.7" cy="1277.5" rx="6.767999999999956" ry="12.354000000000038" stroke-width="1.48" fill="none"/>
<ellipse cx="2213.7" cy="1277.5" rx="4.511999999999971" ry="10.650000000000034" stroke-width="1.07" fill="none"/>
<path d="M2206.9,1234.8999999999999 L2213.9,1232.6 L2233.9,1229.1 L2253.9,1225.6 Q2261.9,1226.6 2264.4,1239.6 Q2264.9,1252.6 2257.9,1257.6 L2233.9,1261.6 L2215.9,1263.6 L2206.9,1260.3" stroke-width="1.48" fill="white"/>
<ellipse cx="2206.9" cy="1247.6" rx="6.9" ry="12.7" stroke-width="1.48" fill="white"/>
<ellipse cx="2207.4" cy="1247.6" rx="5" ry="10" stroke-width="1.15" fill="none"/>
<ellipse cx="2207.9" cy="1247.6" rx="4" ry="8.5" stroke-width="0.98" fill="none"/>
<path d="M2213.9,1232.6 Q2216.9,1248.1 2213.9,1263.6" stroke-width="1.23" fill="none"/>
<path d="M2218.9,1231.6 Q2221.9,1247.35 2218.9,1263.1" stroke-width="1.23" fill="none"/>
<path d="M2225.9,1230.1 Q2228.9,1246.35 2225.9,1262.6" stroke-width="1.23" fill="none"/>
<path d="M2233.9,1229.1 Q2236.9,1245.35 2233.9,1261.6" stroke-width="1.23" fill="none"/>
<path d="M2236.9,1228.6 Q2239.9,1244.85 2236.9,1261.1" stroke-width="1.23" fill="none"/>
<path d="M2243.9,1227.1 Q2246.9,1243.6 2243.9,1260.1" stroke-width="1.23" fill="none"/>
<path d="M2253.9,1225.6 Q2256.9,1242.1 2253.9,1258.6" stroke-width="1.23" fill="none"/>
<path d="M2218.9,1240.6 L2236.9,1237.6 M2218.9,1255.6 L2236.9,1252.6 M2236.9,1237.6 L2253.9,1234.6 M2236.9,1252.6 L2253.9,1249.6" stroke-width="1.15" fill="none"/>
<path d="M2253.9,1225.6 Q2259.9,1227.6 2261.9,1241.6 Q2261.9,1252.6 2257.9,1257.6" stroke-width="1.07" fill="none"/>
<path d="M2257,1257.8999999999999 L2264,1255.6 L2284,1252.1 L2304,1248.6 Q2312,1249.6 2314.5,1262.6 Q2315,1275.6 2308,1280.6 L2284,1284.6 L2266,1286.6 L2257,1283.3" stroke-width="1.48" fill="white"/>
<ellipse cx="2257" cy="1270.6" rx="6.9" ry="12.7" stroke-width="1.48" fill="white"/>
<ellipse cx="2257.5" cy="1270.6" rx="5" ry="10" stroke-width="1.15" fill="none"/>
<ellipse cx="2258" cy="1270.6" rx="4" ry="8.5" stroke-width="0.98" fill="none"/>
<path d="M2264,1255.6 Q2267,1271.1 2264,1286.6" stroke-width="1.23" fill="none"/>
<path d="M2269,1254.6 Q2272,1270.35 2269,1286.1" stroke-width="1.23" fill="none"/>
<path d="M2276,1253.1 Q2279,1269.35 2276,1285.6" stroke-width="1.23" fill="none"/>
<path d="M2284,1252.1 Q2287,1268.35 2284,1284.6" stroke-width="1.23" fill="none"/>
<path d="M2287,1251.6 Q2290,1267.85 2287,1284.1" stroke-width="1.23" fill="none"/>
<path d="M2294,1250.1 Q2297,1266.6 2294,1283.1" stroke-width="1.23" fill="none"/>
<path d="M2304,1248.6 Q2307,1265.1 2304,1281.6" stroke-width="1.23" fill="none"/>
<path d="M2269,1263.6 L2287,1260.6 M2269,1278.6 L2287,1275.6 M2287,1260.6 L2304,1257.6 M2287,1275.6 L2304,1272.6" stroke-width="1.15" fill="none"/>
<path d="M2304,1248.6 Q2310,1250.6 2312,1264.6 Q2312,1275.6 2308,1280.6" stroke-width="1.07" fill="none"/>
<path d="M2064.8,1298.3 Q2066,1295 2070,1294.8 L2078,1293.7 L2082.6,1287.9 L2135.6,1278.7 L2163.2,1279.8 L2206.9,1300.6 L2209.8,1302.9 L2209.2,1309.8 L2205.8,1312.1 L2204.6,1344.3 Q2202,1351 2196.6,1353.5 L2175.8,1354.7 Q2165,1353 2158.6,1350 L2119.4,1342 L2118.3,1329.3 L2065.4,1302.9 Z" stroke-width="1.48" fill="none"/>
<path d="M2065.4,1302.9 L2119.4,1330.5 L2158.6,1350" stroke-width="1.31" fill="none"/>
<path d="M2067,1300.5 L2121,1328" stroke-width="0.98" fill="none"/>
<path d="M2118.3,1329.3 Q2117,1338 2119.4,1342" stroke-width="1.15" fill="none"/>
<path d="M2082.6,1289 L2135.6,1280.4 L2164.3,1282.1 L2204.6,1302.9 L2201.2,1307.5 L2129.8,1315.5 L2121.8,1312.1 L2083.8,1293.7 Z" stroke-width="2.62" fill="none"/>
<path d="M2085,1291 L2135.6,1283 L2163.5,1284.5 L2199.5,1303.5 L2130,1311.5 L2123,1308.8 Z" stroke-width="1.15" fill="none"/>
<path d="M2138,1284.4 L2138.5,1312.1 M2141.3,1284.4 L2141.3,1312" stroke-width="1.8" fill="none"/>
<path d="M2154,1285.6 L2154.5,1309.8 M2158,1286 L2158.5,1309.5 M2160.9,1286.5 L2161,1309" stroke-width="1.15" fill="none"/>
<path d="M2196.6,1314.4 L2196.6,1351.2 M2200.5,1314 L2200.5,1350 M2205.8,1313 L2204.6,1344" stroke-width="1.15" fill="none"/>
<path d="M2086.5,1293 L2086.5,1312 M2091.5,1295 L2091.5,1314" stroke-width="1.07" fill="none"/>
<path d="M2114,1323 L2114,1334 M2125,1318 L2125,1335 M2130,1318 L2130,1332" stroke-width="1.07" fill="none"/>
<ellipse cx="2109.3" cy="1313.3" rx="8" ry="2.5" stroke-width="1.23" fill="none"/>
<ellipse cx="2109.3" cy="1313.3" rx="3" ry="1" stroke-width="0.9" fill="none"/>
<ellipse cx="2075.7" cy="1296.5" rx="4" ry="1.5" stroke-width="1.15" fill="none"/>
<path d="M2106,1302.5 L2106,1306.5 M2108,1302.5 L2108,1306" stroke-width="1.31" fill="none"/>
<path d="M2189.5,1304.5 L2189.5,1308 M2191.5,1304 L2191.5,1308" stroke-width="1.07" fill="none"/>
<path d="M2148,1351 L2148,1358 M2153.5,1351 L2153.5,1358" stroke-width="1.31" fill="none"/>
<path d="M2143.5,1359 Q2150.5,1356 2158,1359 L2158,1361 Q2150.5,1364.5 2143.5,1361 Z" stroke-width="1.31" fill="white"/>
<path d="M2072.75,1377.5 L2072.75,1358 L2076,1354 L2079.25,1358 L2079.25,1377.5" stroke-width="1.31" fill="none"/>
<line x1="2072.75" y1="1358" x2="2079.25" y2="1358" stroke-width="1.0"/>
<path d="M2068.8,1377.5 Q2076,1375.0 2083.2,1377.5 L2083.2,1378.7 Q2076,1381.3 2068.8,1378.7 Z" stroke-width="1.31" fill="white"/>
<path d="M2107.95,1393 L2107.95,1373.4 L2111.2,1369.4 L2114.45,1373.4 L2114.45,1393" stroke-width="1.31" fill="none"/>
<line x1="2107.95" y1="1373.4" x2="2114.45" y2="1373.4" stroke-width="1.0"/>
<path d="M2104.0,1393 Q2111.2,1390.5 2118.3999999999996,1393 L2118.3999999999996,1394.2 Q2111.2,1396.8 2104.0,1394.2 Z" stroke-width="1.31" fill="white"/>
<path d="M2200.25,1384.5 L2200.25,1365.1 L2203.5,1361.1 L2206.75,1365.1 L2206.75,1384.5" stroke-width="1.31" fill="none"/>
<line x1="2200.25" y1="1365.1" x2="2206.75" y2="1365.1" stroke-width="1.0"/>
<path d="M2196.3,1384.5 Q2203.5,1382.0 2210.7,1384.5 L2210.7,1385.7 Q2203.5,1388.3 2196.3,1385.7 Z" stroke-width="1.31" fill="white"/>
<text transform="translate(977.5 112.3) scale(1 1.08)" font-size="44" text-anchor="middle" stroke="none" fill="#1a1a1a">4</text>
<text transform="translate(1526 240.70000000000002) scale(1 1.08)" font-size="44" text-anchor="middle" stroke="none" fill="#1a1a1a">4</text>
<text transform="translate(1816 254.8) scale(1 1.08)" font-size="44" text-anchor="middle" stroke="none" fill="#1a1a1a">3</text>
<text transform="translate(2205.6 373.1) scale(1 1.08)" font-size="44" text-anchor="middle" stroke="none" fill="#1a1a1a">2</text>
<text transform="translate(49.6 563.9) scale(1 1.08)" font-size="44" text-anchor="middle" stroke="none" fill="#1a1a1a">2</text>
<text transform="translate(198.5 602.0) scale(1 1.08)" font-size="44" text-anchor="middle" stroke="none" fill="#1a1a1a">10</text>
<text transform="translate(500.5 514.3) scale(1 1.08)" font-size="44" text-anchor="middle" stroke="none" fill="#1a1a1a">9</text>
<text transform="translate(393 956.0) scale(1 1.08)" font-size="44" text-anchor="middle" stroke="none" fill="#1a1a1a">9</text>
<text transform="translate(152 941.0999999999999) scale(1 1.08)" font-size="44" text-anchor="middle" stroke="none" fill="#1a1a1a">5</text>
<text transform="translate(632.3 933.0999999999999) scale(1 1.08)" font-size="44" text-anchor="middle" stroke="none" fill="#1a1a1a">5</text>
<text transform="translate(1479 567.3) scale(1 1.08)" font-size="44" text-anchor="middle" stroke="none" fill="#1a1a1a">4</text>
<text transform="translate(1296 631.3) scale(1 1.08)" font-size="44" text-anchor="middle" stroke="none" fill="#1a1a1a">3</text>
<text transform="translate(1251 681.3) scale(1 1.08)" font-size="44" text-anchor="middle" stroke="none" fill="#1a1a1a">7</text>
<text transform="translate(1616.5 597.8) scale(1 1.08)" font-size="44" text-anchor="middle" stroke="none" fill="#1a1a1a">7</text>
<text transform="translate(1863.5 781.3) scale(1 1.08)" font-size="44" text-anchor="middle" stroke="none" fill="#1a1a1a">6</text>
<text transform="translate(1122 805.3) scale(1 1.08)" font-size="44" text-anchor="middle" stroke="none" fill="#1a1a1a">5</text>
<text transform="translate(1218 850.3) scale(1 1.08)" font-size="44" text-anchor="middle" stroke="none" fill="#1a1a1a">3</text>
<text transform="translate(1393 884.3) scale(1 1.08)" font-size="44" text-anchor="middle" stroke="none" fill="#1a1a1a">3</text>
<text transform="translate(1599 976.3) scale(1 1.08)" font-size="44" text-anchor="middle" stroke="none" fill="#1a1a1a">3</text>
<text transform="translate(1834.5 987.8) scale(1 1.08)" font-size="44" text-anchor="middle" stroke="none" fill="#1a1a1a">10</text>
<text transform="translate(2181 1020.0) scale(1 1.08)" font-size="44" text-anchor="middle" stroke="none" fill="#1a1a1a">8</text>
<text transform="translate(1363.6 1069.3) scale(1 1.08)" font-size="44" text-anchor="middle" stroke="none" fill="#1a1a1a">3</text>
<text transform="translate(1246.6 1172.3) scale(1 1.08)" font-size="44" text-anchor="middle" stroke="none" fill="#1a1a1a">5</text>
<text transform="translate(677.5 1265.1) scale(1 1.08)" font-size="44" text-anchor="middle" stroke="none" fill="#1a1a1a">5</text>
<text transform="translate(967.5 1450.1) scale(1 1.08)" font-size="44" text-anchor="middle" stroke="none" fill="#1a1a1a">5</text>
<text transform="translate(1423 1465.3) scale(1 1.08)" font-size="44" text-anchor="middle" stroke="none" fill="#1a1a1a">3</text>
<text transform="translate(2298 1437.0) scale(1 1.08)" font-size="44" text-anchor="middle" stroke="none" fill="#1a1a1a">10</text>
<path d="M2203.9,158.6 L2203.9,190.2 L2199.4,190.2 L2199.4,166.1 Q2196.9,169.6 2191.9,170.9 L2191.9,166.9 Q2197.4,164.1 2199.1,158.6 Z" fill="#1a1a1a" stroke="none"/>
<path d="M2214.6,483.19999999999993 L2214.6,514.8 L2210.1,514.8 L2210.1,490.69999999999993 Q2207.6,494.19999999999993 2202.6,495.49999999999994 L2202.6,491.49999999999994 Q2208.1,488.69999999999993 2209.7999999999997,483.19999999999993 Z" fill="#1a1a1a" stroke="none"/>
<line x1="995.6" y1="101.5" x2="1262.6" y2="30.9" stroke-width="1.6"/>
<line x1="995.6" y1="101.5" x2="1251.5" y2="49.4" stroke-width="1.6"/>
<line x1="995.6" y1="101.5" x2="1203.3" y2="82.8" stroke-width="1.6"/>
<line x1="995.6" y1="101.5" x2="1210.7" y2="140.9" stroke-width="1.6"/>
<line x1="995.6" y1="101.5" x2="1249" y2="165.6" stroke-width="1.6"/>
<line x1="995.6" y1="101.5" x2="1173.9" y2="201" stroke-width="1.6"/>
<path d="M995.6,101.5 L1245.3,120.5 L1260.1,134.7" stroke-width="1.31" fill="none"/>
<line x1="1511.4" y1="238.8" x2="1427.6" y2="330.8" stroke-width="1.6"/>
<line x1="1804.6" y1="257.7" x2="1720.2" y2="344.9" stroke-width="1.6"/>
<line x1="2182.5" y1="195.3" x2="2110.1" y2="279.6" stroke-width="1.6"/>
<line x1="2185.2" y1="368.6" x2="2108.8" y2="381.8" stroke-width="1.6"/>
<line x1="2189.1" y1="498.2" x2="2114.1" y2="466.6" stroke-width="1.6"/>
<line x1="56.2" y1="570.9" x2="90" y2="696.6" stroke-width="1.6"/>
<line x1="199.2" y1="604" x2="199.2" y2="752.9" stroke-width="1.6"/>
<line x1="486.4" y1="519.6" x2="347.4" y2="585.8" stroke-width="1.6"/>
<path d="M486.4,519.6 L476.4,587.5 L340.8,648.7" stroke-width="1.31" fill="none"/>
<line x1="375.5" y1="926.6" x2="334.2" y2="905.1" stroke-width="1.6"/>
<line x1="168.7" y1="898.5" x2="130.7" y2="779.4" stroke-width="1.6"/>
<line x1="168.7" y1="898.5" x2="190.2" y2="784.3" stroke-width="1.6"/>
<line x1="168.7" y1="898.5" x2="253.1" y2="769.4" stroke-width="1.6"/>
<line x1="168.7" y1="898.5" x2="277.9" y2="782.7" stroke-width="1.6"/>
<line x1="168.7" y1="898.5" x2="253.1" y2="857.1" stroke-width="1.6"/>
<line x1="168.7" y1="898.5" x2="277.9" y2="865.4" stroke-width="1.6"/>
<line x1="630.3" y1="887.9" x2="513.5" y2="779.2" stroke-width="1.6"/>
<line x1="630.3" y1="887.9" x2="701.2" y2="754.9" stroke-width="1.6"/>
<line x1="1466.1" y1="565" x2="1431.1" y2="602.5" stroke-width="1.6"/>
<line x1="1311.2" y1="623.7" x2="1434.9" y2="669.9" stroke-width="1.6"/>
<line x1="1311.2" y1="623.7" x2="1457.3" y2="702.4" stroke-width="1.6"/>
<line x1="1311.2" y1="623.7" x2="1431.1" y2="713.6" stroke-width="1.6"/>
<line x1="1265" y1="677.4" x2="1361.2" y2="713.6" stroke-width="1.6"/>
<line x1="1265" y1="677.4" x2="1382.4" y2="737.4" stroke-width="1.6"/>
<line x1="1617.6" y1="602.5" x2="1569.8" y2="739.9" stroke-width="1.6"/>
<line x1="1617.6" y1="602.5" x2="1680.2" y2="675.5" stroke-width="1.6"/>
<line x1="1617.6" y1="602.5" x2="1699.7" y2="683.4" stroke-width="1.6"/>
<line x1="1880.5" y1="743.1" x2="1866" y2="611.5" stroke-width="1.6"/>
<line x1="1880.5" y1="743.1" x2="1922.7" y2="623.2" stroke-width="1.6"/>
<line x1="1880.5" y1="743.1" x2="1987.5" y2="650.8" stroke-width="1.6"/>
<line x1="1880.5" y1="743.1" x2="2037.7" y2="683.2" stroke-width="1.6"/>
<line x1="1125.5" y1="812.5" x2="1189.3" y2="889" stroke-width="1.6"/>
<path d="M1125.5,812.5 L1141,914.6 L1203.4,958.5" stroke-width="1.31" fill="none"/>
<line x1="1231.8" y1="849.3" x2="1294.2" y2="862.1" stroke-width="1.6"/>
<line x1="1231.8" y1="849.3" x2="1331.1" y2="857.8" stroke-width="1.6"/>
<line x1="1231.8" y1="849.3" x2="1288.5" y2="903.2" stroke-width="1.6"/>
<line x1="1231.8" y1="849.3" x2="1304.1" y2="941.5" stroke-width="1.6"/>
<line x1="1394.9" y1="886.2" x2="1406.2" y2="950" stroke-width="1.6"/>
<line x1="1583.1" y1="968.9" x2="1478.7" y2="943.8" stroke-width="1.6"/>
<line x1="1583.1" y1="968.9" x2="1521.4" y2="941.3" stroke-width="1.6"/>
<line x1="1583.1" y1="968.9" x2="1521.4" y2="975.2" stroke-width="1.6"/>
<line x1="1583.1" y1="968.9" x2="1507.6" y2="1005.4" stroke-width="1.6"/>
<line x1="1810.7" y1="990.3" x2="1725.2" y2="1083.4" stroke-width="1.6"/>
<line x1="2164.1" y1="997.6" x2="2018.3" y2="945.7" stroke-width="1.6"/>
<line x1="1375.6" y1="1067" x2="1409.5" y2="1085.9" stroke-width="1.6"/>
<line x1="1244.6" y1="1135.8" x2="1229" y2="1072" stroke-width="1.6"/>
<line x1="1244.6" y1="1135.8" x2="1274.3" y2="1033.7" stroke-width="1.6"/>
<line x1="691.5" y1="1227.1" x2="734.1" y2="1115.3" stroke-width="1.6"/>
<line x1="991" y1="1419.6" x2="1047.8" y2="1310.2" stroke-width="1.6"/>
<line x1="991" y1="1419.6" x2="1068.8" y2="1357.2" stroke-width="1.6"/>
<line x1="991" y1="1419.6" x2="1089.1" y2="1355.6" stroke-width="1.6"/>
<line x1="991" y1="1419.6" x2="1124.7" y2="1382.3" stroke-width="1.6"/>
<line x1="991" y1="1419.6" x2="1148.2" y2="1390.4" stroke-width="1.6"/>
<line x1="1420.7" y1="1427" x2="1317.1" y2="1319.8" stroke-width="1.6"/>
<line x1="1420.7" y1="1427" x2="1382.3" y2="1340.8" stroke-width="1.6"/>
<line x1="1420.7" y1="1427" x2="1548.8" y2="1243" stroke-width="1.6"/>
<line x1="1420.7" y1="1427" x2="1635" y2="1268.6" stroke-width="1.6"/>
<line x1="1420.7" y1="1427" x2="1700.3" y2="1301.2" stroke-width="1.6"/>
<rect x="2028.3" y="1137.1" width="315.2" height="318.8" stroke-width="1.6"/>
</svg></body></html>
